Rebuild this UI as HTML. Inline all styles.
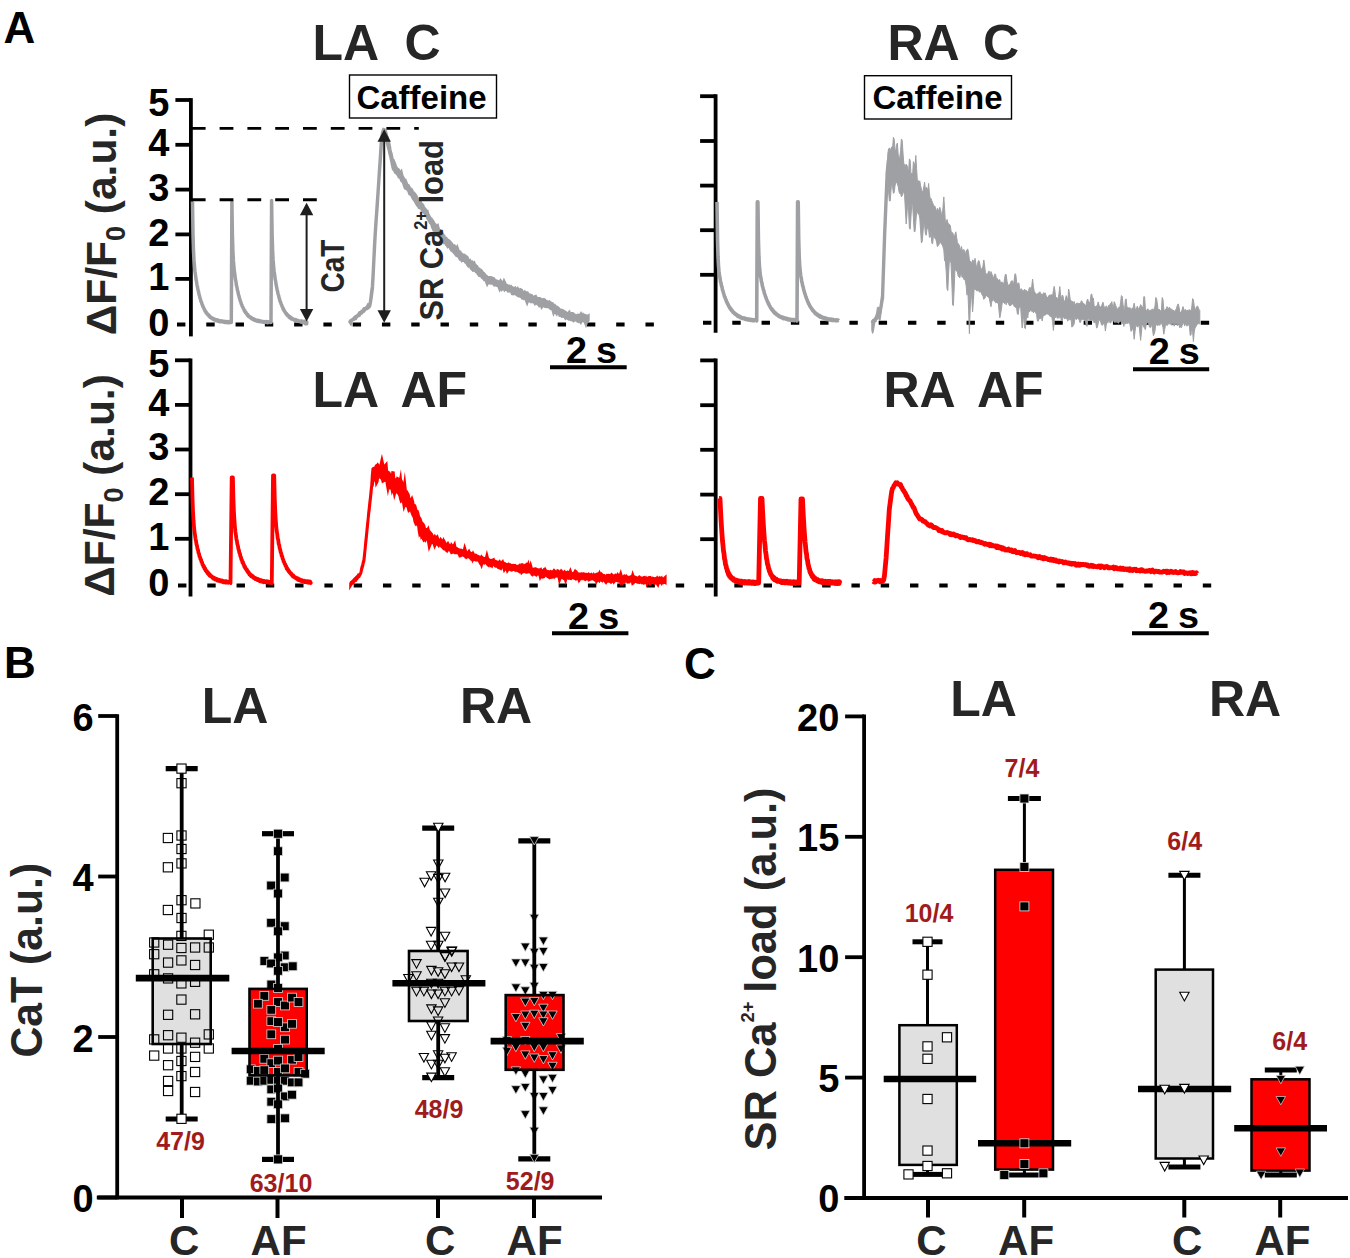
<!DOCTYPE html>
<html><head><meta charset="utf-8"><style>
html,body{margin:0;padding:0;background:#fff;width:1350px;height:1258px;overflow:hidden}
svg{display:block}
</style></head><body>
<svg width="1350" height="1258" viewBox="0 0 1350 1258" font-family="'Liberation Sans', sans-serif" font-weight="bold">
<rect width="1350" height="1258" fill="#fff"/>
<text x="3.5" y="43" font-size="44" fill="#000" text-anchor="start" >A</text>
<text x="4" y="678" font-size="44" fill="#000" text-anchor="start" >B</text>
<text x="684" y="678.5" font-size="44" fill="#000" text-anchor="start" >C</text>
<line x1="190.9" y1="98.1" x2="190.9" y2="336.4" stroke="#000" stroke-width="3.8" />
<line x1="175.4" y1="100" x2="190.9" y2="100" stroke="#000" stroke-width="3.8" />
<line x1="175.4" y1="144.8" x2="190.9" y2="144.8" stroke="#000" stroke-width="3.8" />
<line x1="175.4" y1="189.6" x2="190.9" y2="189.6" stroke="#000" stroke-width="3.8" />
<line x1="175.4" y1="234.4" x2="190.9" y2="234.4" stroke="#000" stroke-width="3.8" />
<line x1="175.4" y1="278.9" x2="190.9" y2="278.9" stroke="#000" stroke-width="3.8" />
<text x="169.5" y="116.2" font-size="38" fill="#000" text-anchor="end" >5</text>
<text x="169.5" y="155.5" font-size="38" fill="#000" text-anchor="end" >4</text>
<text x="169.5" y="200.8" font-size="38" fill="#000" text-anchor="end" >3</text>
<text x="169.5" y="245.6" font-size="38" fill="#000" text-anchor="end" >2</text>
<text x="169.5" y="289.8" font-size="38" fill="#000" text-anchor="end" >1</text>
<text x="169.5" y="336.2" font-size="38" fill="#000" text-anchor="end" >0</text>
<line x1="190.5" y1="358.40000000000003" x2="190.5" y2="596.4" stroke="#000" stroke-width="3.8" />
<line x1="175.0" y1="360.3" x2="190.5" y2="360.3" stroke="#000" stroke-width="3.8" />
<line x1="175.0" y1="404.9" x2="190.5" y2="404.9" stroke="#000" stroke-width="3.8" />
<line x1="175.0" y1="449.5" x2="190.5" y2="449.5" stroke="#000" stroke-width="3.8" />
<line x1="175.0" y1="494.2" x2="190.5" y2="494.2" stroke="#000" stroke-width="3.8" />
<line x1="175.0" y1="538.8" x2="190.5" y2="538.8" stroke="#000" stroke-width="3.8" />
<text x="169.5" y="376.5" font-size="38" fill="#000" text-anchor="end" >5</text>
<text x="169.5" y="415.7" font-size="38" fill="#000" text-anchor="end" >4</text>
<text x="169.5" y="460.3" font-size="38" fill="#000" text-anchor="end" >3</text>
<text x="169.5" y="505" font-size="38" fill="#000" text-anchor="end" >2</text>
<text x="169.5" y="549.6" font-size="38" fill="#000" text-anchor="end" >1</text>
<text x="169.5" y="596.4" font-size="38" fill="#000" text-anchor="end" >0</text>
<line x1="715.6" y1="94.3" x2="715.6" y2="332.8" stroke="#000" stroke-width="3.8" />
<line x1="700.1" y1="96.2" x2="715.6" y2="96.2" stroke="#000" stroke-width="3.8" />
<line x1="700.1" y1="141" x2="715.6" y2="141" stroke="#000" stroke-width="3.8" />
<line x1="700.1" y1="185.6" x2="715.6" y2="185.6" stroke="#000" stroke-width="3.8" />
<line x1="700.1" y1="230.2" x2="715.6" y2="230.2" stroke="#000" stroke-width="3.8" />
<line x1="700.1" y1="274.8" x2="715.6" y2="274.8" stroke="#000" stroke-width="3.8" />
<line x1="715.7" y1="358.5" x2="715.7" y2="596.5" stroke="#000" stroke-width="3.8" />
<line x1="700.2" y1="360.4" x2="715.7" y2="360.4" stroke="#000" stroke-width="3.8" />
<line x1="700.2" y1="405.2" x2="715.7" y2="405.2" stroke="#000" stroke-width="3.8" />
<line x1="700.2" y1="449.8" x2="715.7" y2="449.8" stroke="#000" stroke-width="3.8" />
<line x1="700.2" y1="494.6" x2="715.7" y2="494.6" stroke="#000" stroke-width="3.8" />
<line x1="700.2" y1="539.2" x2="715.7" y2="539.2" stroke="#000" stroke-width="3.8" />
<text transform="translate(116,224) rotate(-90)" font-size="42.5" fill="#262626" text-anchor="middle">ΔF/F<tspan font-size="27" dy="9">0</tspan><tspan dy="-9"> (a.u.)</tspan></text>
<text transform="translate(114,485.5) rotate(-90)" font-size="42.5" fill="#262626" text-anchor="middle">ΔF/F<tspan font-size="27" dy="9">0</tspan><tspan dy="-9"> (a.u.)</tspan></text>
<text x="312.5" y="60.3" font-size="50" fill="#262626" text-anchor="start" >LA</text>
<text x="404.5" y="60.3" font-size="50" fill="#262626" text-anchor="start" >C</text>
<text x="887.5" y="60.3" font-size="50" fill="#262626" text-anchor="start" >RA</text>
<text x="983" y="60.3" font-size="50" fill="#262626" text-anchor="start" >C</text>
<text x="312.5" y="406.5" font-size="50" fill="#262626" text-anchor="start" >LA</text>
<text x="400.5" y="406.5" font-size="50" fill="#262626" text-anchor="start" >AF</text>
<text x="883.5" y="406.7" font-size="50" fill="#262626" text-anchor="start" >RA</text>
<text x="977" y="406.7" font-size="50" fill="#262626" text-anchor="start" >AF</text>
<rect x="349.5" y="75" width="147" height="43" fill="none" stroke="#000" stroke-width="1.4"/>
<text x="421.5" y="108.6" font-size="33" fill="#000" text-anchor="middle" >Caffeine</text>
<rect x="864.5" y="75.7" width="147" height="43.3" fill="none" stroke="#000" stroke-width="1.4"/>
<text x="937.5" y="109.2" font-size="33" fill="#000" text-anchor="middle" >Caffeine</text>
<line x1="177" y1="324.6" x2="655" y2="324.6" stroke="#000" stroke-width="4" stroke-dasharray="8.4 20.88"/>
<line x1="178" y1="585.4" x2="1212" y2="585.4" stroke="#000" stroke-width="4" stroke-dasharray="8.4 20.88"/>
<line x1="703" y1="322.8" x2="1210" y2="322.8" stroke="#000" stroke-width="4" stroke-dasharray="8.4 20.88"/>
<line x1="550" y1="367.3" x2="626.7" y2="367.3" stroke="#000" stroke-width="4" />
<text x="565.9000000000001" y="362.6" font-size="37.8" fill="#000" text-anchor="start" >2</text>
<text x="596.0" y="362.6" font-size="37.8" fill="#000" text-anchor="start" >s</text>
<line x1="552" y1="633.3" x2="628.4" y2="633.3" stroke="#000" stroke-width="4" />
<text x="568.1" y="628.6" font-size="37.8" fill="#000" text-anchor="start" >2</text>
<text x="598.1999999999999" y="628.6" font-size="37.8" fill="#000" text-anchor="start" >s</text>
<line x1="1133" y1="369.3" x2="1209.2" y2="369.3" stroke="#000" stroke-width="4" />
<text x="1148.7" y="364.3" font-size="37.8" fill="#000" text-anchor="start" >2</text>
<text x="1178.8" y="364.3" font-size="37.8" fill="#000" text-anchor="start" >s</text>
<line x1="1132" y1="633.3" x2="1208.8" y2="633.3" stroke="#000" stroke-width="4" />
<text x="1147.9" y="628.4" font-size="37.8" fill="#000" text-anchor="start" >2</text>
<text x="1178.0" y="628.4" font-size="37.8" fill="#000" text-anchor="start" >s</text>
<path d="M192.50,201.50 L193.00,234.20 L193.50,250.87 L194.00,260.41 L194.50,266.70 L195.00,271.74 L195.50,275.08 L196.00,279.20 L196.50,281.63 L197.00,285.09 L197.50,286.98 L198.00,289.95 L198.50,291.62 L199.00,294.32 L199.50,295.73 L200.00,298.13 L200.50,299.40 L201.00,301.56 L201.50,302.15 L202.00,304.28 L202.50,305.06 L203.00,306.96 L203.50,307.05 L204.00,309.08 L204.50,309.28 L205.00,311.11 L205.50,311.15 L206.00,312.67 L206.50,312.55 L207.00,313.76 L207.50,313.92 L208.00,315.04 L208.50,314.75 L209.00,316.03 L209.50,315.82 L210.00,317.13 L210.50,316.76 L211.00,317.88 L211.50,317.62 L212.00,318.36 L212.50,318.19 L213.00,319.21 L213.50,318.65 L214.00,319.57 L214.50,319.06 L215.00,320.07 L215.50,319.60 L216.00,320.60 L216.50,319.79 L217.00,320.71 L217.50,320.15 L218.00,321.11 L218.50,320.30 L219.00,321.45 L219.50,320.78 L220.00,321.77 L220.50,321.05 L221.00,321.73 L221.50,320.96 L222.00,321.78 L222.50,321.22 L223.00,321.87 L223.50,321.28 L224.00,322.30 L224.50,321.43 L225.00,322.45 L225.50,321.64 L226.00,322.47 L226.50,321.61 L227.00,322.50 L227.50,321.74 L228.00,322.68 L228.50,321.60 L229.00,322.59 L229.50,321.78" fill="none" stroke="#9fa0a4" stroke-width="3.5" stroke-linejoin="round" stroke-linecap="butt"/>
<path d="M229.50,322.60 L231.30,322.60 L231.90,201.50 L232.40,234.20 L232.90,250.87 L233.40,260.41 L233.90,266.70 L234.40,271.63 L234.90,274.85 L235.40,279.20 L235.90,281.25 L236.40,285.21 L236.90,287.01 L237.40,290.09 L237.90,291.56 L238.40,294.32 L238.90,295.72 L239.40,298.17 L239.90,299.39 L240.40,301.41 L240.90,302.18 L241.40,304.29 L241.90,305.05 L242.40,306.87 L242.90,307.08 L243.40,308.88 L243.90,309.25 L244.40,310.93 L244.90,310.80 L245.40,312.65 L245.90,312.30 L246.40,313.82 L246.90,313.79 L247.40,315.06 L247.90,314.72 L248.40,316.36 L248.90,316.00 L249.40,316.94 L249.90,316.82 L250.40,317.75 L250.90,317.44 L251.40,318.58 L251.90,318.17 L252.40,318.93 L252.90,318.66 L253.40,319.59 L253.90,319.07 L254.40,320.28 L254.90,319.43 L255.40,320.49 L255.90,319.82 L256.40,320.89 L256.90,320.37 L257.40,321.27 L257.90,320.34 L258.40,321.51 L258.90,320.56 L259.40,321.53 L259.90,320.93 L260.40,321.59 L260.90,321.01 L261.40,321.74 L261.90,321.40 L262.40,321.94 L262.90,321.49 L263.40,322.12 L263.90,321.65 L264.40,322.09 L264.90,321.71 L265.40,322.22 L265.90,321.71 L266.40,322.27 L266.90,321.57 L267.40,322.59 L267.90,321.94 L268.40,322.49 L268.90,321.91 L269.40,322.59" fill="none" stroke="#9fa0a4" stroke-width="3.5" stroke-linejoin="round" stroke-linecap="butt"/>
<path d="M269.50,322.60 L271.00,322.60 L271.60,200.50 L272.10,233.47 L272.60,250.28 L273.10,259.90 L273.60,266.24 L274.10,271.23 L274.60,274.40 L275.10,278.99 L275.60,281.13 L276.10,284.75 L276.60,286.80 L277.10,289.70 L277.60,291.44 L278.10,294.18 L278.60,295.34 L279.10,297.96 L279.60,299.24 L280.10,301.61 L280.60,302.11 L281.10,304.14 L281.60,304.78 L282.10,306.58 L282.60,307.10 L283.10,309.14 L283.60,308.97 L284.10,310.89 L284.60,310.97 L285.10,312.37 L285.60,312.52 L286.10,313.95 L286.60,313.67 L287.10,315.17 L287.60,314.89 L288.10,315.99 L288.60,315.67 L289.10,317.23 L289.60,316.51 L290.10,317.95 L290.60,317.26 L291.10,318.61 L291.60,318.15 L292.10,319.11 L292.60,318.65 L293.10,319.42 L293.60,319.27 L294.10,319.98 L294.60,319.59 L295.10,320.54 L295.60,319.66 L296.10,320.77 L296.60,319.98 L297.10,321.29 L297.60,320.25 L298.10,321.28 L298.60,320.79 L299.10,321.45 L299.60,321.01 L300.10,321.63 L300.60,321.00 L301.10,322.08 L301.60,321.07 L302.10,322.05 L302.60,321.28 L303.10,322.31 L303.60,321.63 L304.10,322.36 L304.60,321.39 L305.10,322.50 L305.60,321.54 L306.10,322.45 L306.60,321.86 L307.10,322.66" fill="none" stroke="#9fa0a4" stroke-width="3.5" stroke-linejoin="round" stroke-linecap="butt"/>
<circle cx="306" cy="323" r="2.6" fill="#9fa0a4"/>
<path d="M717.00,201.90 L717.50,238.72 L718.00,256.46 L718.50,265.82 L719.00,271.43 L719.50,275.66 L720.00,277.89 L720.50,281.63 L721.00,283.07 L721.50,285.95 L722.00,287.06 L722.50,290.04 L723.00,291.10 L723.50,293.28 L724.00,294.40 L724.50,296.71 L725.00,297.05 L725.50,299.15 L726.00,299.64 L726.50,301.95 L727.00,302.03 L727.50,303.87 L728.00,304.13 L728.50,305.71 L729.00,306.18 L729.50,307.79 L730.00,307.54 L730.50,309.13 L731.00,308.86 L731.50,310.46 L732.00,310.17 L732.50,311.83 L733.00,311.59 L733.50,312.67 L734.00,312.57 L734.50,313.62 L735.00,313.35 L735.50,314.48 L736.00,314.22 L736.50,315.18 L737.00,314.73 L737.50,315.94 L738.00,315.55 L738.50,316.64 L739.00,315.93 L739.50,317.10 L740.00,316.42 L740.50,317.61 L741.00,317.03 L741.50,318.04 L742.00,317.64 L742.50,318.38 L743.00,317.92 L743.50,318.52 L744.00,317.98 L744.50,318.89 L745.00,318.39 L745.50,319.38 L746.00,318.61 L746.50,319.45 L747.00,318.84 L747.50,319.75 L748.00,318.93 L748.50,319.75 L749.00,319.19 L749.50,319.97 L750.00,319.47 L750.50,320.34 L751.00,319.51 L751.50,320.38 L752.00,319.52 L752.50,320.64 L753.00,319.76 L753.50,320.62 L754.00,319.83 L754.50,320.67 L755.00,319.84 L755.50,320.72" fill="none" stroke="#9fa0a4" stroke-width="3.6" stroke-linejoin="round" stroke-linecap="butt"/>
<path d="M755.80,321.00 L756.70,321.00 L757.30,201.90 L757.90,201.90 L758.40,238.72 L758.90,256.46 L759.40,265.82 L759.90,271.03 L760.40,275.72 L760.90,277.83 L761.40,281.52 L761.90,282.87 L762.40,286.18 L762.90,287.35 L763.40,289.97 L763.90,290.78 L764.40,293.58 L764.90,294.41 L765.40,296.38 L765.90,297.20 L766.40,299.12 L766.90,299.89 L767.40,301.57 L767.90,302.02 L768.40,304.05 L768.90,303.98 L769.40,305.72 L769.90,305.88 L770.40,307.66 L770.90,307.75 L771.40,309.28 L771.90,308.85 L772.40,310.37 L772.90,310.14 L773.40,311.65 L773.90,311.47 L774.40,312.98 L774.90,312.34 L775.40,313.59 L775.90,313.41 L776.40,314.58 L776.90,314.25 L777.40,315.21 L777.90,314.98 L778.40,316.10 L778.90,315.74 L779.40,316.63 L779.90,316.12 L780.40,316.93 L780.90,316.67 L781.40,317.66 L781.90,317.04 L782.40,317.84 L782.90,317.24 L783.40,318.52 L783.90,317.59 L784.40,318.57 L784.90,318.20 L785.40,318.83 L785.90,318.26 L786.40,319.19 L786.90,318.78 L787.40,319.49 L787.90,318.68 L788.40,319.86 L788.90,319.15 L789.40,319.77 L789.90,319.04 L790.40,320.11 L790.90,319.29 L791.40,320.05 L791.90,319.70 L792.40,320.43 L792.90,319.66 L793.40,320.29 L793.90,319.56 L794.40,320.63 L794.90,319.71 L795.40,320.49" fill="none" stroke="#9fa0a4" stroke-width="3.6" stroke-linejoin="round" stroke-linecap="butt"/>
<path d="M795.80,321.00 L797.00,321.00 L797.60,201.90 L798.20,201.90 L798.70,238.72 L799.20,256.46 L799.70,265.82 L800.20,270.89 L800.70,275.54 L801.20,277.87 L801.70,281.42 L802.20,283.09 L802.70,286.01 L803.20,287.07 L803.70,289.84 L804.20,291.12 L804.70,293.45 L805.20,294.36 L805.70,296.38 L806.20,297.32 L806.70,299.11 L807.20,299.91 L807.70,301.67 L808.20,302.17 L808.70,304.04 L809.20,304.24 L809.70,305.87 L810.20,306.11 L810.70,307.53 L811.20,307.80 L811.70,309.02 L812.20,309.25 L812.70,310.58 L813.20,310.31 L813.70,311.56 L814.20,311.48 L814.70,312.95 L815.20,312.65 L815.70,313.86 L816.20,313.41 L816.70,314.58 L817.20,314.05 L817.70,315.29 L818.20,314.90 L818.70,316.08 L819.20,315.33 L819.70,316.54 L820.20,315.96 L820.70,317.22 L821.20,316.54 L821.70,317.57 L822.20,317.11 L822.70,317.84 L823.20,317.59 L823.70,318.22 L824.20,317.69 L824.70,318.63 L825.20,318.25 L825.70,318.85 L826.20,318.24 L826.70,319.44 L827.20,318.56 L827.70,319.43 L828.20,318.96 L828.70,319.64 L829.20,319.06 L829.70,319.77 L830.20,319.24 L830.70,319.98 L831.20,319.18 L831.70,320.42 L832.20,319.49 L832.70,320.25 L833.20,319.44 L833.70,320.39 L834.20,319.80 L834.70,320.36 L835.20,319.89 L835.70,320.65 L836.20,319.92 L836.70,320.62 L837.20,320.00 L837.70,320.61 L838.20,320.17 L838.70,320.71" fill="none" stroke="#9fa0a4" stroke-width="3.6" stroke-linejoin="round" stroke-linecap="butt"/>
<path d="M192.00,477.50 L192.50,498.12 L193.00,511.35 L193.50,520.26 L194.00,526.61 L194.50,531.89 L195.00,535.02 L195.50,538.80 L196.00,540.98 L196.50,544.32 L197.00,545.73 L197.50,548.99 L198.00,549.82 L198.50,552.97 L199.00,553.49 L199.50,556.53 L200.00,556.91 L200.50,559.27 L201.00,559.45 L201.50,561.88 L202.00,562.14 L202.50,564.56 L203.00,564.79 L203.50,566.80 L204.00,566.33 L204.50,568.58 L205.00,568.21 L205.50,570.37 L206.00,570.13 L206.50,571.71 L207.00,571.34 L207.50,573.22 L208.00,572.43 L208.50,574.40 L209.00,573.68 L209.50,575.49 L210.00,574.61 L210.50,576.32 L211.00,575.75 L211.50,576.78 L212.00,576.59 L212.50,577.71 L213.00,577.31 L213.50,578.63 L214.00,577.67 L214.50,579.10 L215.00,578.19 L215.50,579.65 L216.00,578.75 L216.50,579.74 L217.00,579.02 L217.50,580.56 L218.00,579.57 L218.50,580.81 L219.00,579.83 L219.50,580.87 L220.00,580.09 L220.50,581.27 L221.00,580.74 L221.50,581.53 L222.00,580.61 L222.50,581.73 L223.00,580.82 L223.50,582.36 L224.00,581.15 L224.50,582.21 L225.00,581.33 L225.50,582.54 L226.00,581.32 L226.50,582.64 L227.00,581.52 L227.50,582.47 L228.00,581.92 L228.50,582.68 L229.00,581.69 L229.50,582.81" fill="none" stroke="#ff0000" stroke-width="3.8" stroke-linejoin="round" stroke-linecap="butt"/>
<path d="M229.80,583.20 L230.50,583.20 L231.70,477.50 L232.90,477.50 L233.40,498.12 L233.90,511.35 L234.40,520.26 L234.90,526.61 L235.40,531.98 L235.90,535.04 L236.40,538.82 L236.90,541.00 L237.40,544.57 L237.90,545.67 L238.40,549.08 L238.90,550.07 L239.40,552.89 L239.90,553.64 L240.40,556.30 L240.90,557.06 L241.40,559.59 L241.90,559.89 L242.40,562.34 L242.90,562.03 L243.40,564.21 L243.90,564.56 L244.40,566.79 L244.90,566.29 L245.40,568.48 L245.90,568.47 L246.40,570.04 L246.90,569.68 L247.40,571.54 L247.90,571.30 L248.40,572.83 L248.90,572.59 L249.40,574.47 L249.90,573.93 L250.40,575.45 L250.90,574.71 L251.40,576.43 L251.90,575.49 L252.40,576.89 L252.90,576.16 L253.40,577.78 L253.90,577.35 L254.40,578.17 L254.90,577.71 L255.40,579.00 L255.90,578.37 L256.40,579.35 L256.90,578.84 L257.40,579.91 L257.90,578.99 L258.40,580.15 L258.90,579.43 L259.40,580.98 L259.90,580.13 L260.40,581.35 L260.90,580.11 L261.40,581.63 L261.90,580.61 L262.40,581.59 L262.90,580.80 L263.40,582.17 L263.90,580.90 L264.40,582.02 L264.90,581.19 L265.40,582.15 L265.90,581.57 L266.40,582.21 L266.90,581.28 L267.40,582.46 L267.90,581.36 L268.40,582.56 L268.90,581.85 L269.40,582.82 L269.90,582.00 L270.40,582.85 L270.90,581.67" fill="none" stroke="#ff0000" stroke-width="3.8" stroke-linejoin="round" stroke-linecap="butt"/>
<path d="M271.00,583.20 L271.80,583.20 L273.00,475.50 L274.20,475.50 L274.70,496.51 L275.20,509.99 L275.70,519.07 L276.20,525.54 L276.70,531.18 L277.20,533.69 L277.70,538.29 L278.20,539.85 L278.70,543.98 L279.20,545.05 L279.70,548.44 L280.20,549.59 L280.70,552.43 L281.20,553.09 L281.70,555.95 L282.20,556.28 L282.70,558.79 L283.20,559.54 L283.70,561.90 L284.20,562.09 L284.70,564.10 L285.20,564.28 L285.70,566.18 L286.20,566.11 L286.70,568.49 L287.20,568.20 L287.70,570.03 L288.20,569.80 L288.70,571.50 L289.20,571.19 L289.70,572.65 L290.20,572.60 L290.70,573.88 L291.20,573.33 L291.70,575.11 L292.20,574.72 L292.70,576.30 L293.20,575.19 L293.70,576.89 L294.20,576.47 L294.70,577.50 L295.20,577.21 L295.70,578.26 L296.20,577.84 L296.70,578.80 L297.20,578.31 L297.70,579.51 L298.20,578.46 L298.70,580.08 L299.20,579.17 L299.70,580.31 L300.20,579.50 L300.70,580.67 L301.20,579.96 L301.70,580.82 L302.20,580.30 L302.70,581.62 L303.20,580.67 L303.70,581.62 L304.20,580.63 L304.70,582.06 L305.20,581.08 L305.70,581.93 L306.20,581.26 L306.70,582.19 L307.20,581.32 L307.70,582.66 L308.20,581.25 L308.70,582.76 L309.20,581.85 L309.70,582.42 L310.20,581.59 L310.70,583.02 L311.20,581.83" fill="none" stroke="#ff0000" stroke-width="3.8" stroke-linejoin="round" stroke-linecap="butt"/>
<path d="M719.00,498.50 L720.00,498.50 L720.50,509.48 L721.00,518.98 L721.50,527.20 L722.00,534.32 L722.50,541.13 L723.00,545.56 L723.50,550.98 L724.00,553.63 L724.50,558.76 L725.00,560.18 L725.50,564.50 L726.00,565.48 L726.50,568.23 L727.00,569.25 L727.50,571.73 L728.00,571.74 L728.50,574.45 L729.00,573.86 L729.50,576.14 L730.00,575.48 L730.50,577.47 L731.00,576.88 L731.50,578.31 L732.00,577.72 L732.50,579.30 L733.00,578.39 L733.50,580.24 L734.00,579.38 L734.50,580.44 L735.00,579.89 L735.50,581.19 L736.00,579.99 L736.50,581.20 L737.00,580.69 L737.50,581.74 L738.00,580.62 L738.50,581.88 L739.00,581.06 L739.50,582.21 L740.00,581.36 L740.50,582.18 L741.00,581.23 L741.50,582.73 L742.00,581.24 L742.50,582.80 L743.00,581.45 L743.50,582.49 L744.00,581.69 L744.50,583.03 L745.00,581.48 L745.50,582.70 L746.00,581.99 L746.50,582.89 L747.00,581.64 L747.50,582.90 L748.00,581.96 L748.50,583.11 L749.00,581.59 L749.50,582.88 L750.00,582.20 L750.50,583.00 L751.00,582.00 L751.50,583.26 L752.00,582.18 L752.50,583.36 L753.00,581.87 L753.50,583.21 L754.00,582.24 L754.50,583.54 L755.00,582.20 L755.50,583.47 L756.00,582.28 L756.50,583.12 L757.00,581.97" fill="none" stroke="#ff0000" stroke-width="4.8" stroke-linejoin="round" stroke-linecap="butt"/>
<path d="M757.00,583.00 L758.70,583.00 L760.50,498.50 L762.00,498.50 L762.50,509.48 L763.00,518.98 L763.50,527.20 L764.00,534.32 L764.50,540.94 L765.00,544.96 L765.50,551.04 L766.00,554.09 L766.50,558.38 L767.00,560.46 L767.50,564.31 L768.00,565.04 L768.50,568.25 L769.00,569.10 L769.50,571.53 L770.00,571.56 L770.50,573.95 L771.00,574.29 L771.50,575.77 L772.00,575.72 L772.50,577.74 L773.00,576.67 L773.50,578.75 L774.00,577.58 L774.50,579.74 L775.00,578.77 L775.50,579.95 L776.00,578.98 L776.50,580.83 L777.00,580.03 L777.50,581.21 L778.00,580.19 L778.50,581.37 L779.00,580.53 L779.50,581.52 L780.00,580.99 L780.50,581.81 L781.00,580.98 L781.50,582.43 L782.00,581.29 L782.50,582.60 L783.00,581.39 L783.50,582.35 L784.00,581.13 L784.50,582.76 L785.00,581.48 L785.50,582.37 L786.00,581.55 L786.50,582.66 L787.00,581.35 L787.50,582.63 L788.00,581.77 L788.50,583.14 L789.00,582.05 L789.50,582.89 L790.00,581.61 L790.50,583.17 L791.00,582.15 L791.50,582.76 L792.00,582.18 L792.50,583.36 L793.00,582.10 L793.50,583.30 L794.00,581.74 L794.50,583.08 L795.00,582.17 L795.50,583.50 L796.00,581.98 L796.50,583.09 L797.00,581.95 L797.50,583.15" fill="none" stroke="#ff0000" stroke-width="4.8" stroke-linejoin="round" stroke-linecap="butt"/>
<path d="M797.60,583.00 L799.20,583.00 L801.00,499.00 L802.50,499.00 L803.00,509.91 L803.50,519.36 L804.00,527.53 L804.50,534.61 L805.00,541.23 L805.50,545.75 L806.00,551.48 L806.50,553.71 L807.00,558.86 L807.50,560.16 L808.00,564.05 L808.50,565.54 L809.00,568.61 L809.50,568.73 L810.00,572.16 L810.50,571.93 L811.00,574.12 L811.50,574.04 L812.00,576.16 L812.50,575.32 L813.00,577.37 L813.50,576.67 L814.00,578.87 L814.50,577.63 L815.00,579.75 L815.50,578.54 L816.00,580.11 L816.50,579.34 L817.00,580.66 L817.50,579.49 L818.00,580.89 L818.50,580.28 L819.00,581.70 L819.50,580.55 L820.00,581.50 L820.50,580.95 L821.00,582.06 L821.50,580.95 L822.00,582.55 L822.50,580.73 L823.00,582.72 L823.50,581.31 L824.00,582.22 L824.50,581.55 L825.00,582.62 L825.50,581.23 L826.00,582.69 L826.50,581.66 L827.00,582.76 L827.50,581.47 L828.00,583.01 L828.50,581.45 L829.00,583.20 L829.50,581.57 L830.00,582.75 L830.50,581.51 L831.00,582.93 L831.50,581.75 L832.00,583.03 L832.50,581.68 L833.00,582.96 L833.50,582.07 L834.00,583.03 L834.50,582.17 L835.00,583.51 L835.50,581.91 L836.00,583.16 L836.50,582.07 L837.00,583.65 L837.50,582.02 L838.00,583.15 L838.50,581.83 L839.00,583.47 L839.50,581.73 L840.00,583.11" fill="none" stroke="#ff0000" stroke-width="4.8" stroke-linejoin="round" stroke-linecap="butt"/>
<path d="M350.00,321.67 L350.70,320.73 L351.40,320.14 L352.10,319.79 L352.80,319.55 L353.50,319.09 L354.20,318.24 L354.90,317.18 L355.60,316.79 L356.30,316.85 L357.00,315.77 L357.70,315.38 L358.40,314.86 L359.10,313.66 L359.80,312.75 L360.50,312.69 L361.20,312.11 L361.90,311.26 L362.60,311.32 L363.30,310.76 L364.00,308.91 L364.70,308.69 L365.40,308.48 L366.10,308.04 L366.80,307.40 L367.50,306.82 L368.20,305.33 L368.90,305.82 L369.60,304.27 L370.30,302.79 L371.00,297.52 L371.70,291.45 L372.40,286.42 L373.10,275.09 L373.80,261.30 L374.50,246.01 L375.20,234.22 L375.90,222.96 L376.60,213.49 L377.30,202.98 L378.00,193.08 L378.70,182.64 L379.40,170.92 L380.10,161.26 L380.80,150.05 L381.50,139.15 L382.20,134.70 L382.90,131.40 L383.60,129.58 L384.30,129.73 L385.00,130.52 L385.70,132.16 L386.40,135.49 L387.10,137.22 L387.80,141.00 L388.50,142.60 L389.20,145.36 L389.90,149.54 L390.60,152.56 L391.30,155.00 L392.00,159.05 L392.70,161.37 L393.40,164.24 L394.10,162.89 L394.80,164.63 L395.50,167.14 L396.20,167.72 L396.90,169.20 L397.60,169.60 L398.30,169.99 L399.00,171.94 L399.70,172.47 L400.40,173.32 L401.10,172.35 L401.80,175.08 L402.50,178.38 L403.20,178.28 L403.90,180.10 L404.60,181.39 L405.30,180.89 L406.00,182.52 L406.70,184.51 L407.40,185.28 L408.10,185.53 L408.80,186.94 L409.50,187.94 L410.20,188.89 L410.90,189.28 L411.60,189.87 L412.30,192.21 L413.00,193.94 L413.70,194.85 L414.40,194.00 L415.10,194.85 L415.80,195.80 L416.50,197.25 L417.20,199.14 L417.90,199.72 L418.60,200.84 L419.30,200.52 L420.00,201.16 L420.70,203.65 L421.40,204.74 L422.10,204.60 L422.80,205.46 L423.50,207.89 L424.20,208.36 L424.90,209.06 L425.60,210.36 L426.30,211.38 L427.00,211.31 L427.70,214.14 L428.40,215.05 L429.10,216.63 L429.80,217.73 L430.50,218.87 L431.20,219.16 L431.90,220.30 L432.60,221.05 L433.30,222.42 L434.00,224.72 L434.70,226.22 L435.40,225.57 L436.10,226.94 L436.80,226.82 L437.50,226.18 L438.20,228.91 L438.90,230.01 L439.60,230.47 L440.30,231.43 L441.00,233.58 L441.70,233.99 L442.40,234.15 L443.10,235.47 L443.80,235.87 L444.50,238.03 L445.20,238.30 L445.90,238.35 L446.60,239.99 L447.30,239.99 L448.00,240.74 L448.70,242.44 L449.40,241.54 L450.10,242.22 L450.80,244.01 L451.50,243.96 L452.20,245.26 L452.90,245.75 L453.60,246.50 L454.30,246.20 L455.00,247.26 L455.70,249.51 L456.40,249.23 L457.10,247.93 L457.80,249.81 L458.50,251.54 L459.20,251.79 L459.90,252.12 L460.60,253.85 L461.30,254.00 L462.00,254.60 L462.70,255.33 L463.40,255.71 L464.10,255.52 L464.80,256.41 L465.50,258.30 L466.20,256.79 L466.90,257.28 L467.60,259.37 L468.30,260.67 L469.00,260.94 L469.70,260.65 L470.40,261.78 L471.10,262.11 L471.80,262.01 L472.50,263.96 L473.20,263.70 L473.90,263.20 L474.60,264.94 L475.30,265.46 L476.00,266.03 L476.70,266.53 L477.40,268.36 L478.10,269.35 L478.80,269.13 L479.50,269.77 L480.20,270.06 L480.90,270.65 L481.60,271.27 L482.30,272.55 L483.00,273.20 L483.70,273.50 L484.40,274.64 L485.10,275.49 L485.80,276.03 L486.50,276.67 L487.20,277.12 L487.90,277.51 L488.60,277.80 L489.30,278.61 L490.00,277.69 L490.70,277.69 L491.40,278.43 L492.10,278.31 L492.80,278.59 L493.50,280.41 L494.20,279.69 L494.90,280.64 L495.60,280.87 L496.30,281.53 L497.00,281.28 L497.70,281.59 L498.40,282.42 L499.10,282.74 L499.80,282.35 L500.50,281.26 L501.20,282.37 L501.90,283.89 L502.60,284.58 L503.30,283.36 L504.00,281.65 L504.70,283.15 L505.40,284.98 L506.10,285.26 L506.80,286.41 L507.50,285.94 L508.20,286.68 L508.90,286.45 L509.60,287.33 L510.30,288.18 L511.00,287.21 L511.70,288.16 L512.40,287.84 L513.10,288.34 L513.80,288.35 L514.50,289.61 L515.20,288.77 L515.90,290.09 L516.60,290.02 L517.30,289.28 L518.00,291.21 L518.70,290.43 L519.40,291.84 L520.10,290.97 L520.80,290.03 L521.50,290.39 L522.20,292.93 L522.90,292.58 L523.60,293.15 L524.30,292.51 L525.00,294.60 L525.70,293.85 L526.40,292.81 L527.10,292.89 L527.80,293.78 L528.50,295.46 L529.20,295.40 L529.90,295.32 L530.60,295.39 L531.30,295.54 L532.00,296.92 L532.70,297.53 L533.40,297.34 L534.10,297.71 L534.80,296.85 L535.50,296.61 L536.20,297.83 L536.90,298.68 L537.60,298.64 L538.30,298.91 L539.00,298.68 L539.70,298.69 L540.40,299.42 L541.10,299.54 L541.80,299.73 L542.50,301.07 L543.20,300.14 L543.90,299.68 L544.60,299.99 L545.30,300.99 L546.00,301.64 L546.70,301.75 L547.40,301.94 L548.10,302.57 L548.80,303.22 L549.50,302.24 L550.20,302.89 L550.90,303.79 L551.60,303.49 L552.30,303.73 L553.00,305.93 L553.70,305.49 L554.40,305.44 L555.10,306.45 L555.80,306.76 L556.50,306.99 L557.20,307.82 L557.90,308.04 L558.60,308.74 L559.30,310.00 L560.00,310.08 L560.70,310.09 L561.40,310.34 L562.10,310.78 L562.80,310.90 L563.50,312.35 L564.20,311.73 L564.90,312.09 L565.60,314.33 L566.30,313.34 L567.00,314.11 L567.70,314.01 L568.40,313.38 L569.10,312.67 L569.80,314.94 L570.50,314.40 L571.20,314.48 L571.90,313.75 L572.60,313.72 L573.30,314.32 L574.00,316.03 L574.70,315.52 L575.40,315.44 L576.10,315.64 L576.80,316.55 L577.50,316.05 L578.20,315.22 L578.90,315.33 L579.60,315.49 L580.30,315.64 L581.00,314.44 L581.70,315.64 L582.40,317.24 L583.10,315.82 L583.80,317.17 L584.50,317.30 L585.20,315.69 L585.90,315.98 L586.60,316.94 L587.30,316.74 L588.00,316.32 L588.00,320.01 L587.30,321.35 L586.60,321.36 L585.90,323.45 L585.20,321.69 L584.50,320.39 L583.80,319.84 L583.10,320.35 L582.40,319.94 L581.70,320.05 L581.00,321.39 L580.30,319.77 L579.60,320.06 L578.90,320.99 L578.20,320.17 L577.50,320.64 L576.80,319.49 L576.10,319.60 L575.40,319.68 L574.70,319.48 L574.00,319.13 L573.30,320.36 L572.60,319.94 L571.90,319.36 L571.20,319.46 L570.50,318.80 L569.80,318.93 L569.10,319.03 L568.40,318.60 L567.70,318.06 L567.00,317.70 L566.30,317.02 L565.60,317.74 L564.90,316.71 L564.20,316.21 L563.50,315.83 L562.80,315.84 L562.10,316.22 L561.40,315.47 L560.70,315.17 L560.00,315.26 L559.30,313.22 L558.60,312.91 L557.90,312.32 L557.20,310.89 L556.50,313.07 L555.80,312.14 L555.10,309.73 L554.40,310.61 L553.70,312.08 L553.00,309.49 L552.30,308.91 L551.60,308.63 L550.90,308.41 L550.20,307.74 L549.50,306.64 L548.80,306.69 L548.10,305.69 L547.40,305.74 L546.70,306.38 L546.00,306.30 L545.30,304.87 L544.60,305.55 L543.90,304.77 L543.20,304.02 L542.50,305.53 L541.80,306.49 L541.10,304.83 L540.40,304.39 L539.70,303.68 L539.00,304.96 L538.30,304.02 L537.60,303.76 L536.90,302.83 L536.20,302.71 L535.50,301.57 L534.80,302.95 L534.10,301.91 L533.40,301.38 L532.70,300.81 L532.00,301.44 L531.30,301.55 L530.60,300.59 L529.90,300.96 L529.20,300.62 L528.50,299.86 L527.80,299.89 L527.10,301.82 L526.40,300.03 L525.70,298.40 L525.00,297.57 L524.30,297.27 L523.60,297.92 L522.90,296.85 L522.20,297.43 L521.50,296.50 L520.80,296.35 L520.10,296.01 L519.40,295.69 L518.70,295.80 L518.00,295.30 L517.30,294.88 L516.60,294.02 L515.90,293.89 L515.20,292.68 L514.50,292.80 L513.80,293.02 L513.10,293.71 L512.40,293.56 L511.70,291.55 L511.00,291.07 L510.30,290.65 L509.60,290.82 L508.90,290.25 L508.20,290.70 L507.50,289.71 L506.80,289.34 L506.10,288.59 L505.40,288.95 L504.70,289.59 L504.00,288.20 L503.30,288.11 L502.60,287.67 L501.90,288.67 L501.20,287.09 L500.50,287.29 L499.80,288.64 L499.10,286.80 L498.40,285.29 L497.70,284.97 L497.00,285.11 L496.30,284.62 L495.60,284.68 L494.90,283.78 L494.20,284.43 L493.50,283.52 L492.80,283.18 L492.10,282.48 L491.40,282.10 L490.70,282.94 L490.00,282.71 L489.30,282.63 L488.60,281.60 L487.90,281.64 L487.20,283.11 L486.50,281.33 L485.80,279.80 L485.10,279.25 L484.40,279.35 L483.70,278.35 L483.00,277.88 L482.30,277.40 L481.60,276.04 L480.90,275.74 L480.20,275.43 L479.50,275.40 L478.80,274.49 L478.10,273.63 L477.40,272.15 L476.70,272.00 L476.00,271.14 L475.30,270.01 L474.60,269.14 L473.90,270.00 L473.20,270.10 L472.50,269.21 L471.80,268.76 L471.10,267.78 L470.40,265.83 L469.70,264.57 L469.00,264.41 L468.30,265.41 L467.60,264.44 L466.90,262.73 L466.20,261.53 L465.50,261.78 L464.80,260.82 L464.10,260.48 L463.40,259.02 L462.70,259.90 L462.00,260.28 L461.30,258.18 L460.60,257.86 L459.90,258.38 L459.20,256.91 L458.50,255.54 L457.80,254.26 L457.10,255.55 L456.40,255.26 L455.70,254.08 L455.00,252.98 L454.30,252.60 L453.60,251.36 L452.90,250.43 L452.20,250.51 L451.50,249.90 L450.80,248.56 L450.10,246.61 L449.40,245.74 L448.70,246.02 L448.00,246.43 L447.30,245.18 L446.60,244.61 L445.90,242.68 L445.20,241.32 L444.50,240.85 L443.80,241.91 L443.10,241.08 L442.40,240.59 L441.70,239.18 L441.00,236.77 L440.30,235.66 L439.60,235.71 L438.90,234.67 L438.20,234.10 L437.50,233.85 L436.80,232.90 L436.10,230.88 L435.40,230.97 L434.70,230.37 L434.00,230.24 L433.30,228.41 L432.60,227.01 L431.90,224.61 L431.20,223.01 L430.50,222.68 L429.80,221.08 L429.10,219.90 L428.40,219.06 L427.70,217.88 L427.00,215.66 L426.30,214.37 L425.60,214.17 L424.90,212.85 L424.20,212.29 L423.50,211.38 L422.80,210.10 L422.10,209.50 L421.40,207.79 L420.70,206.83 L420.00,207.63 L419.30,207.36 L418.60,205.13 L417.90,203.24 L417.20,204.39 L416.50,203.30 L415.80,201.82 L415.10,200.77 L414.40,198.22 L413.70,198.82 L413.00,197.83 L412.30,196.13 L411.60,194.80 L410.90,194.59 L410.20,192.70 L409.50,192.91 L408.80,190.77 L408.10,189.94 L407.40,188.78 L406.70,188.13 L406.00,188.22 L405.30,187.93 L404.60,185.93 L403.90,183.79 L403.20,181.69 L402.50,181.15 L401.80,180.60 L401.10,178.94 L400.40,177.29 L399.70,177.11 L399.00,176.62 L398.30,174.56 L397.60,174.18 L396.90,173.11 L396.20,172.81 L395.50,172.29 L394.80,170.29 L394.10,169.83 L393.40,168.80 L392.70,165.87 L392.00,162.17 L391.30,159.06 L390.60,155.74 L389.90,153.22 L389.20,149.94 L388.50,147.49 L387.80,144.65 L387.10,141.79 L386.40,139.22 L385.70,134.72 L385.00,131.61 L384.30,130.71 L383.60,130.34 L382.90,131.47 L382.20,135.33 L381.50,141.23 L380.80,151.92 L380.10,162.03 L379.40,172.01 L378.70,182.33 L378.00,192.81 L377.30,204.44 L376.60,213.51 L375.90,224.19 L375.20,234.30 L374.50,247.96 L373.80,260.70 L373.10,275.76 L372.40,288.23 L371.70,293.56 L371.00,298.83 L370.30,303.13 L369.60,306.19 L368.90,306.93 L368.20,306.42 L367.50,308.16 L366.80,308.55 L366.10,308.34 L365.40,308.71 L364.70,309.60 L364.00,310.83 L363.30,310.74 L362.60,311.43 L361.90,312.75 L361.20,313.29 L360.50,313.55 L359.80,313.98 L359.10,315.49 L358.40,315.61 L357.70,315.82 L357.00,316.37 L356.30,317.04 L355.60,318.61 L354.90,318.61 L354.20,319.07 L353.50,318.83 L352.80,319.53 L352.10,320.06 L351.40,320.69 L350.70,322.87 L350.00,321.77 Z" fill="#9fa0a4" stroke="#9fa0a4" stroke-width="3.4" stroke-linejoin="miter" stroke-miterlimit="20"/>
<path d="M871.80,320.49 L872.60,319.40 L873.40,320.37 L874.20,319.43 L875.00,318.16 L875.80,315.59 L876.60,312.97 L877.40,307.33 L878.20,307.23 L879.00,307.48 L879.80,311.71 L880.60,305.28 L881.40,296.18 L882.20,296.75 L883.00,282.30 L883.80,256.14 L884.60,234.62 L885.40,213.75 L886.20,194.21 L887.00,171.38 L887.80,153.48 L888.60,148.77 L889.40,148.03 L890.20,150.95 L891.00,148.38 L891.80,146.87 L892.60,148.12 L893.40,137.28 L894.20,139.20 L895.00,149.32 L895.80,150.95 L896.60,144.70 L897.40,143.02 L898.20,155.03 L899.00,157.72 L899.80,156.91 L900.60,150.68 L901.40,138.98 L902.20,140.44 L903.00,153.11 L903.80,164.25 L904.60,164.22 L905.40,166.38 L906.20,164.21 L907.00,165.28 L907.80,168.57 L908.60,171.73 L909.40,158.85 L910.20,160.38 L911.00,174.49 L911.80,173.18 L912.60,175.32 L913.40,161.63 L914.20,163.31 L915.00,167.16 L915.80,155.52 L916.60,168.63 L917.40,181.81 L918.20,180.44 L919.00,181.99 L919.80,180.88 L920.60,185.79 L921.40,188.93 L922.20,192.34 L923.00,191.05 L923.80,187.00 L924.60,182.02 L925.40,189.49 L926.20,187.36 L927.00,188.08 L927.80,191.27 L928.60,183.47 L929.40,192.90 L930.20,198.82 L931.00,198.36 L931.80,200.84 L932.60,202.95 L933.40,204.54 L934.20,206.43 L935.00,206.19 L935.80,209.96 L936.60,210.62 L937.40,208.24 L938.20,211.82 L939.00,209.30 L939.80,207.33 L940.60,210.15 L941.40,213.42 L942.20,216.25 L943.00,207.23 L943.80,196.96 L944.60,208.78 L945.40,222.85 L946.20,221.65 L947.00,219.52 L947.80,222.32 L948.60,224.45 L949.40,224.31 L950.20,225.28 L951.00,230.36 L951.80,235.05 L952.60,232.51 L953.40,234.48 L954.20,238.02 L955.00,234.28 L955.80,231.83 L956.60,236.98 L957.40,242.62 L958.20,243.71 L959.00,244.44 L959.80,247.72 L960.60,250.90 L961.40,246.33 L962.20,250.06 L963.00,251.84 L963.80,249.45 L964.60,250.97 L965.40,254.91 L966.20,250.93 L967.00,249.70 L967.80,249.07 L968.60,253.21 L969.40,260.11 L970.20,261.41 L971.00,261.61 L971.80,264.22 L972.60,259.91 L973.40,260.50 L974.20,263.61 L975.00,258.34 L975.80,263.26 L976.60,268.02 L977.40,264.94 L978.20,261.19 L979.00,260.61 L979.80,263.73 L980.60,269.15 L981.40,268.49 L982.20,269.30 L983.00,265.94 L983.80,259.97 L984.60,265.15 L985.40,272.65 L986.20,273.39 L987.00,274.39 L987.80,273.42 L988.60,271.44 L989.40,271.25 L990.20,276.37 L991.00,271.60 L991.80,273.78 L992.60,275.97 L993.40,278.49 L994.20,275.82 L995.00,273.84 L995.80,275.22 L996.60,280.44 L997.40,278.44 L998.20,281.22 L999.00,279.69 L999.80,279.80 L1000.60,283.99 L1001.40,282.05 L1002.20,282.12 L1003.00,282.91 L1003.80,283.99 L1004.60,278.31 L1005.40,274.34 L1006.20,274.56 L1007.00,281.30 L1007.80,284.25 L1008.60,286.09 L1009.40,284.21 L1010.20,284.45 L1011.00,281.47 L1011.80,280.64 L1012.60,281.01 L1013.40,285.76 L1014.20,280.03 L1015.00,273.68 L1015.80,274.37 L1016.60,282.37 L1017.40,284.94 L1018.20,282.69 L1019.00,283.57 L1019.80,290.46 L1020.60,289.18 L1021.40,288.74 L1022.20,290.22 L1023.00,290.87 L1023.80,290.58 L1024.60,289.09 L1025.40,291.34 L1026.20,290.11 L1027.00,292.04 L1027.80,291.65 L1028.60,290.50 L1029.40,287.69 L1030.20,287.40 L1031.00,292.24 L1031.80,285.67 L1032.60,279.11 L1033.40,286.44 L1034.20,291.58 L1035.00,292.28 L1035.80,293.90 L1036.60,294.23 L1037.40,293.69 L1038.20,293.92 L1039.00,292.59 L1039.80,291.75 L1040.60,293.32 L1041.40,293.91 L1042.20,295.56 L1043.00,293.68 L1043.80,292.58 L1044.60,293.61 L1045.40,293.02 L1046.20,296.21 L1047.00,296.89 L1047.80,297.93 L1048.60,296.03 L1049.40,295.06 L1050.20,294.96 L1051.00,295.29 L1051.80,294.55 L1052.60,295.98 L1053.40,290.56 L1054.20,286.36 L1055.00,291.29 L1055.80,299.51 L1056.60,297.06 L1057.40,298.55 L1058.20,299.27 L1059.00,293.21 L1059.80,286.56 L1060.60,295.06 L1061.40,299.72 L1062.20,295.03 L1063.00,295.87 L1063.80,302.24 L1064.60,300.92 L1065.40,299.41 L1066.20,295.63 L1067.00,297.59 L1067.80,301.95 L1068.60,289.06 L1069.40,292.44 L1070.20,300.08 L1071.00,300.19 L1071.80,303.00 L1072.60,301.16 L1073.40,303.54 L1074.20,301.55 L1075.00,304.21 L1075.80,304.91 L1076.60,303.07 L1077.40,302.95 L1078.20,304.87 L1079.00,302.93 L1079.80,303.73 L1080.60,302.82 L1081.40,300.72 L1082.20,301.82 L1083.00,303.22 L1083.80,303.76 L1084.60,304.10 L1085.40,305.83 L1086.20,304.52 L1087.00,300.41 L1087.80,299.00 L1088.60,303.10 L1089.40,301.80 L1090.20,302.79 L1091.00,294.36 L1091.80,294.07 L1092.60,299.70 L1093.40,297.98 L1094.20,306.47 L1095.00,306.58 L1095.80,306.72 L1096.60,305.69 L1097.40,305.00 L1098.20,301.92 L1099.00,305.14 L1099.80,306.99 L1100.60,306.87 L1101.40,307.06 L1102.20,304.11 L1103.00,302.22 L1103.80,305.73 L1104.60,307.95 L1105.40,308.05 L1106.20,305.83 L1107.00,307.98 L1107.80,307.60 L1108.60,305.35 L1109.40,306.33 L1110.20,303.75 L1111.00,303.38 L1111.80,301.63 L1112.60,306.09 L1113.40,308.03 L1114.20,301.65 L1115.00,303.39 L1115.80,305.89 L1116.60,307.39 L1117.40,309.26 L1118.20,308.73 L1119.00,306.88 L1119.80,307.66 L1120.60,302.76 L1121.40,295.56 L1122.20,296.56 L1123.00,304.29 L1123.80,308.80 L1124.60,309.65 L1125.40,299.41 L1126.20,298.99 L1127.00,308.02 L1127.80,307.20 L1128.60,307.94 L1129.40,307.82 L1130.20,307.89 L1131.00,309.85 L1131.80,308.49 L1132.60,308.81 L1133.40,306.47 L1134.20,303.16 L1135.00,308.10 L1135.80,310.89 L1136.60,307.90 L1137.40,306.10 L1138.20,309.69 L1139.00,308.01 L1139.80,307.11 L1140.60,304.62 L1141.40,306.07 L1142.20,306.61 L1143.00,309.31 L1143.80,296.68 L1144.60,296.78 L1145.40,308.53 L1146.20,310.39 L1147.00,310.77 L1147.80,308.71 L1148.60,310.39 L1149.40,310.53 L1150.20,309.90 L1151.00,311.08 L1151.80,309.22 L1152.60,309.18 L1153.40,309.69 L1154.20,308.83 L1155.00,306.12 L1155.80,297.43 L1156.60,298.69 L1157.40,304.06 L1158.20,311.44 L1159.00,309.09 L1159.80,310.07 L1160.60,310.86 L1161.40,311.14 L1162.20,297.56 L1163.00,299.50 L1163.80,309.63 L1164.60,310.23 L1165.40,309.35 L1166.20,309.22 L1167.00,306.62 L1167.80,308.39 L1168.60,308.36 L1169.40,307.17 L1170.20,308.14 L1171.00,310.83 L1171.80,308.86 L1172.60,311.26 L1173.40,310.07 L1174.20,311.71 L1175.00,310.35 L1175.80,310.16 L1176.60,307.93 L1177.40,305.18 L1178.20,303.88 L1179.00,307.01 L1179.80,311.86 L1180.60,312.36 L1181.40,312.07 L1182.20,309.25 L1183.00,306.60 L1183.80,309.33 L1184.60,310.72 L1185.40,309.28 L1186.20,311.83 L1187.00,309.96 L1187.80,310.88 L1188.60,309.91 L1189.40,309.79 L1190.20,310.28 L1191.00,311.06 L1191.80,307.11 L1192.60,298.63 L1193.40,299.77 L1194.20,305.73 L1195.00,310.36 L1195.80,308.42 L1196.60,306.73 L1197.40,305.90 L1198.20,307.29 L1199.00,309.45 L1199.80,310.39 L1199.80,323.83 L1199.00,323.55 L1198.20,323.72 L1197.40,324.01 L1196.60,325.39 L1195.80,326.85 L1195.00,327.97 L1194.20,331.98 L1193.40,341.56 L1192.60,331.46 L1191.80,325.21 L1191.00,335.10 L1190.20,335.36 L1189.40,325.69 L1188.60,325.31 L1187.80,324.00 L1187.00,326.21 L1186.20,323.82 L1185.40,324.17 L1184.60,326.03 L1183.80,323.06 L1183.00,322.90 L1182.20,325.23 L1181.40,327.67 L1180.60,325.90 L1179.80,327.78 L1179.00,325.13 L1178.20,323.41 L1177.40,325.70 L1176.60,323.48 L1175.80,324.71 L1175.00,322.80 L1174.20,326.24 L1173.40,323.16 L1172.60,322.66 L1171.80,325.37 L1171.00,323.16 L1170.20,324.59 L1169.40,322.87 L1168.60,324.00 L1167.80,324.58 L1167.00,325.69 L1166.20,324.04 L1165.40,325.69 L1164.60,329.80 L1163.80,334.26 L1163.00,327.53 L1162.20,324.44 L1161.40,323.81 L1160.60,323.12 L1159.80,325.43 L1159.00,322.51 L1158.20,325.33 L1157.40,325.48 L1156.60,325.08 L1155.80,323.46 L1155.00,330.88 L1154.20,333.88 L1153.40,335.73 L1152.60,330.07 L1151.80,323.03 L1151.00,326.91 L1150.20,327.58 L1149.40,327.03 L1148.60,323.01 L1147.80,322.66 L1147.00,322.88 L1146.20,324.45 L1145.40,329.63 L1144.60,328.09 L1143.80,327.01 L1143.00,324.25 L1142.20,324.05 L1141.40,332.86 L1140.60,340.38 L1139.80,332.05 L1139.00,325.07 L1138.20,326.42 L1137.40,327.01 L1136.60,325.95 L1135.80,325.09 L1135.00,331.80 L1134.20,339.30 L1133.40,331.35 L1132.60,327.36 L1131.80,330.05 L1131.00,331.40 L1130.20,325.98 L1129.40,321.75 L1128.60,322.42 L1127.80,323.83 L1127.00,321.25 L1126.20,323.68 L1125.40,323.94 L1124.60,322.36 L1123.80,326.45 L1123.00,321.97 L1122.20,323.85 L1121.40,321.25 L1120.60,321.37 L1119.80,320.99 L1119.00,322.63 L1118.20,323.25 L1117.40,322.12 L1116.60,322.29 L1115.80,320.86 L1115.00,322.76 L1114.20,320.66 L1113.40,321.21 L1112.60,320.48 L1111.80,321.54 L1111.00,322.56 L1110.20,323.12 L1109.40,321.46 L1108.60,320.17 L1107.80,323.15 L1107.00,320.96 L1106.20,325.17 L1105.40,331.04 L1104.60,324.09 L1103.80,322.86 L1103.00,324.67 L1102.20,325.34 L1101.40,324.71 L1100.60,321.13 L1099.80,320.44 L1099.00,319.83 L1098.20,323.52 L1097.40,327.37 L1096.60,328.03 L1095.80,322.92 L1095.00,321.16 L1094.20,323.02 L1093.40,320.51 L1092.60,320.49 L1091.80,318.64 L1091.00,320.99 L1090.20,318.28 L1089.40,320.85 L1088.60,318.59 L1087.80,319.34 L1087.00,326.40 L1086.20,325.53 L1085.40,319.70 L1084.60,320.86 L1083.80,319.20 L1083.00,319.42 L1082.20,319.81 L1081.40,318.66 L1080.60,322.36 L1079.80,322.45 L1079.00,318.98 L1078.20,319.07 L1077.40,317.45 L1076.60,319.47 L1075.80,319.28 L1075.00,316.56 L1074.20,323.78 L1073.40,325.58 L1072.60,326.64 L1071.80,327.09 L1071.00,317.52 L1070.20,320.15 L1069.40,319.59 L1068.60,318.44 L1067.80,321.19 L1067.00,318.94 L1066.20,318.08 L1065.40,318.52 L1064.60,318.82 L1063.80,317.15 L1063.00,317.02 L1062.20,320.97 L1061.40,320.70 L1060.60,317.14 L1059.80,316.00 L1059.00,318.37 L1058.20,317.06 L1057.40,318.42 L1056.60,315.25 L1055.80,317.82 L1055.00,315.44 L1054.20,321.13 L1053.40,330.39 L1052.60,321.54 L1051.80,317.16 L1051.00,315.92 L1050.20,316.67 L1049.40,315.13 L1048.60,314.85 L1047.80,312.80 L1047.00,314.49 L1046.20,312.93 L1045.40,314.99 L1044.60,315.55 L1043.80,314.44 L1043.00,316.50 L1042.20,320.94 L1041.40,316.81 L1040.60,318.35 L1039.80,319.15 L1039.00,317.60 L1038.20,321.27 L1037.40,320.95 L1036.60,314.52 L1035.80,312.81 L1035.00,312.35 L1034.20,310.28 L1033.40,312.78 L1032.60,311.34 L1031.80,311.53 L1031.00,310.26 L1030.20,310.45 L1029.40,312.08 L1028.60,309.28 L1027.80,317.90 L1027.00,315.52 L1026.20,319.84 L1025.40,328.66 L1024.60,328.00 L1023.80,319.29 L1023.00,317.61 L1022.20,328.09 L1021.40,318.17 L1020.60,305.95 L1019.80,306.74 L1019.00,308.13 L1018.20,314.51 L1017.40,314.05 L1016.60,307.89 L1015.80,307.57 L1015.00,306.93 L1014.20,306.48 L1013.40,304.27 L1012.60,303.93 L1011.80,304.61 L1011.00,304.95 L1010.20,305.85 L1009.40,305.64 L1008.60,303.75 L1007.80,302.31 L1007.00,302.24 L1006.20,304.86 L1005.40,301.50 L1004.60,303.73 L1003.80,301.65 L1003.00,302.93 L1002.20,302.58 L1001.40,309.33 L1000.60,313.86 L999.80,317.82 L999.00,310.73 L998.20,301.74 L997.40,303.28 L996.60,302.26 L995.80,302.92 L995.00,301.00 L994.20,301.18 L993.40,298.31 L992.60,300.92 L991.80,300.96 L991.00,306.76 L990.20,303.08 L989.40,298.95 L988.60,296.91 L987.80,296.96 L987.00,295.73 L986.20,294.99 L985.40,297.56 L984.60,297.99 L983.80,299.40 L983.00,295.93 L982.20,295.01 L981.40,293.10 L980.60,291.07 L979.80,292.37 L979.00,291.46 L978.20,290.16 L977.40,290.87 L976.60,290.81 L975.80,289.40 L975.00,289.72 L974.20,287.56 L973.40,300.48 L972.60,311.88 L971.80,299.30 L971.00,286.29 L970.20,308.91 L969.40,333.66 L968.60,309.14 L967.80,289.08 L967.00,295.16 L966.20,286.24 L965.40,280.65 L964.60,280.07 L963.80,279.14 L963.00,276.53 L962.20,277.48 L961.40,274.56 L960.60,274.24 L959.80,277.86 L959.00,276.97 L958.20,276.08 L957.40,271.78 L956.60,271.34 L955.80,270.36 L955.00,268.52 L954.20,287.92 L953.40,305.53 L952.60,304.94 L951.80,281.41 L951.00,263.28 L950.20,259.96 L949.40,259.95 L948.60,273.05 L947.80,290.61 L947.00,288.85 L946.20,271.32 L945.40,260.95 L944.60,260.93 L943.80,249.82 L943.00,246.99 L942.20,244.38 L941.40,244.11 L940.60,242.55 L939.80,241.04 L939.00,244.46 L938.20,245.70 L937.40,246.69 L936.60,242.33 L935.80,238.81 L935.00,238.73 L934.20,236.55 L933.40,235.80 L932.60,244.03 L931.80,242.89 L931.00,231.08 L930.20,237.33 L929.40,237.16 L928.60,228.89 L927.80,227.75 L927.00,229.38 L926.20,235.31 L925.40,233.70 L924.60,225.07 L923.80,223.26 L923.00,231.91 L922.20,241.74 L921.40,242.90 L920.60,230.24 L919.80,218.54 L919.00,214.04 L918.20,214.04 L917.40,211.76 L916.60,212.03 L915.80,222.29 L915.00,231.72 L914.20,231.55 L913.40,217.54 L912.60,204.26 L911.80,203.45 L911.00,216.25 L910.20,229.17 L909.40,228.02 L908.60,211.51 L907.80,199.88 L907.00,213.51 L906.20,223.97 L905.40,209.75 L904.60,195.63 L903.80,191.76 L903.00,192.81 L902.20,195.73 L901.40,196.79 L900.60,193.33 L899.80,193.72 L899.00,191.66 L898.20,186.56 L897.40,183.64 L896.60,182.73 L895.80,182.61 L895.00,185.83 L894.20,192.72 L893.40,193.32 L892.60,186.85 L891.80,179.98 L891.00,190.54 L890.20,201.00 L889.40,200.93 L888.60,192.00 L887.80,183.01 L887.00,178.18 L886.20,198.46 L885.40,216.09 L884.60,237.57 L883.80,261.37 L883.00,285.26 L882.20,303.33 L881.40,310.69 L880.60,317.39 L879.80,321.07 L879.00,319.58 L878.20,315.98 L877.40,319.51 L876.60,320.38 L875.80,322.18 L875.00,321.44 L874.20,326.42 L873.40,331.45 L872.60,333.42 L871.80,330.52 Z" fill="#9fa0a4" stroke="#9fa0a4" stroke-width="1.0" stroke-linejoin="miter" stroke-miterlimit="20"/>
<path d="M871.80,323.00 L876.00,318.00 L880.00,312.00 L882.50,298.00 L884.70,232.60 L887.20,172.70 L888.50,160.00" fill="none" stroke="#9fa0a4" stroke-width="3.4" stroke-linejoin="round" stroke-linecap="butt"/>
<path d="M350.70,583.59 L351.30,582.31 L351.90,581.87 L352.50,582.10 L353.10,580.92 L353.70,580.19 L354.30,580.55 L354.90,579.00 L355.50,579.29 L356.10,578.75 L356.70,577.97 L357.30,576.48 L357.90,576.05 L358.50,574.98 L359.10,575.15 L359.70,574.42 L360.30,573.36 L360.90,572.71 L361.50,568.94 L362.10,566.53 L362.70,564.99 L363.30,561.88 L363.90,559.99 L364.50,554.52 L365.10,549.26 L365.70,542.23 L366.30,536.66 L366.90,530.69 L367.50,524.47 L368.10,519.22 L368.70,512.53 L369.30,507.41 L369.90,501.74 L370.50,496.83 L371.10,490.47 L371.70,485.30 L372.30,475.34 L372.90,468.94 L373.50,468.39 L374.10,468.36 L374.70,468.27 L375.30,468.08 L375.90,466.42 L376.50,465.74 L377.10,465.85 L377.70,464.96 L378.30,465.81 L378.90,467.10 L379.50,466.82 L380.10,466.07 L380.70,466.36 L381.30,463.08 L381.90,460.48 L382.50,463.20 L383.10,467.29 L383.70,467.80 L384.30,469.10 L384.90,469.23 L385.50,465.30 L386.10,464.64 L386.70,471.95 L387.30,472.06 L387.90,472.13 L388.50,473.13 L389.10,473.07 L389.70,474.43 L390.30,475.86 L390.90,475.89 L391.50,476.98 L392.10,477.25 L392.70,472.69 L393.30,472.75 L393.90,479.76 L394.50,480.89 L395.10,480.27 L395.70,481.41 L396.30,482.79 L396.90,480.61 L397.50,478.49 L398.10,478.86 L398.70,482.82 L399.30,486.26 L399.90,482.51 L400.50,479.38 L401.10,484.98 L401.70,486.88 L402.30,485.20 L402.90,488.46 L403.50,490.80 L404.10,488.48 L404.70,484.03 L405.30,489.44 L405.90,494.91 L406.50,496.03 L407.10,496.07 L407.70,493.74 L408.30,494.75 L408.90,498.29 L409.50,498.88 L410.10,500.95 L410.70,500.62 L411.30,500.42 L411.90,499.08 L412.50,500.96 L413.10,503.91 L413.70,506.26 L414.30,506.19 L414.90,506.01 L415.50,508.26 L416.10,510.63 L416.70,511.42 L417.30,511.48 L417.90,513.43 L418.50,516.04 L419.10,517.52 L419.70,518.13 L420.30,519.26 L420.90,521.31 L421.50,523.75 L422.10,525.15 L422.70,523.94 L423.30,524.63 L423.90,525.93 L424.50,528.01 L425.10,529.31 L425.70,529.36 L426.30,529.50 L426.90,530.96 L427.50,530.15 L428.10,529.05 L428.70,531.10 L429.30,533.29 L429.90,532.82 L430.50,534.42 L431.10,533.76 L431.70,534.56 L432.30,536.51 L432.90,538.13 L433.50,538.71 L434.10,537.44 L434.70,536.58 L435.30,537.67 L435.90,538.54 L436.50,537.57 L437.10,537.01 L437.70,538.71 L438.30,541.15 L438.90,541.05 L439.50,541.06 L440.10,540.90 L440.70,539.63 L441.30,540.50 L441.90,542.26 L442.50,541.86 L443.10,542.54 L443.70,540.68 L444.30,541.68 L444.90,542.97 L445.50,544.19 L446.10,544.27 L446.70,544.51 L447.30,544.57 L447.90,543.68 L448.50,544.85 L449.10,545.26 L449.70,546.47 L450.30,546.30 L450.90,546.78 L451.50,545.15 L452.10,545.92 L452.70,547.92 L453.30,547.32 L453.90,545.93 L454.50,544.78 L455.10,547.75 L455.70,547.99 L456.30,548.95 L456.90,548.72 L457.50,549.47 L458.10,550.05 L458.70,549.64 L459.30,549.86 L459.90,550.05 L460.50,550.34 L461.10,550.13 L461.70,550.53 L462.30,551.13 L462.90,551.98 L463.50,551.90 L464.10,550.79 L464.70,548.35 L465.30,550.22 L465.90,552.42 L466.50,552.63 L467.10,552.93 L467.70,553.28 L468.30,552.43 L468.90,551.54 L469.50,552.94 L470.10,552.97 L470.70,554.19 L471.30,554.16 L471.90,553.72 L472.50,555.06 L473.10,553.65 L473.70,554.74 L474.30,555.52 L474.90,555.40 L475.50,555.10 L476.10,555.29 L476.70,556.02 L477.30,556.54 L477.90,556.45 L478.50,556.89 L479.10,557.51 L479.70,557.13 L480.30,557.87 L480.90,558.33 L481.50,557.34 L482.10,558.47 L482.70,557.92 L483.30,558.31 L483.90,558.46 L484.50,558.41 L485.10,558.57 L485.70,558.80 L486.30,558.18 L486.90,555.79 L487.50,558.14 L488.10,560.47 L488.70,559.69 L489.30,560.35 L489.90,561.04 L490.50,560.52 L491.10,560.73 L491.70,560.42 L492.30,561.05 L492.90,560.25 L493.50,559.89 L494.10,561.88 L494.70,561.32 L495.30,561.28 L495.90,562.46 L496.50,562.78 L497.10,562.03 L497.70,562.22 L498.30,562.24 L498.90,562.43 L499.50,561.81 L500.10,562.86 L500.70,563.33 L501.30,563.72 L501.90,562.62 L502.50,561.94 L503.10,564.01 L503.70,563.51 L504.30,563.35 L504.90,563.64 L505.50,564.87 L506.10,564.29 L506.70,564.38 L507.30,565.34 L507.90,564.54 L508.50,564.18 L509.10,564.63 L509.70,564.85 L510.30,564.79 L510.90,565.50 L511.50,565.83 L512.10,566.23 L512.70,565.44 L513.30,565.39 L513.90,565.72 L514.50,565.89 L515.10,565.55 L515.70,566.22 L516.30,566.64 L516.90,566.31 L517.50,566.99 L518.10,566.64 L518.70,566.62 L519.30,565.85 L519.90,566.73 L520.50,566.35 L521.10,567.13 L521.70,564.78 L522.30,564.75 L522.90,567.01 L523.50,566.36 L524.10,565.95 L524.70,565.54 L525.30,567.33 L525.90,565.77 L526.50,564.99 L527.10,566.64 L527.70,566.67 L528.30,564.83 L528.90,567.26 L529.50,568.48 L530.10,568.28 L530.70,565.96 L531.30,568.02 L531.90,569.12 L532.50,569.12 L533.10,569.30 L533.70,569.47 L534.30,568.89 L534.90,568.85 L535.50,568.74 L536.10,569.11 L536.70,569.47 L537.30,569.75 L537.90,570.13 L538.50,569.85 L539.10,569.78 L539.70,570.90 L540.30,570.71 L540.90,569.83 L541.50,570.45 L542.10,570.56 L542.70,571.00 L543.30,571.27 L543.90,570.19 L544.50,570.71 L545.10,569.61 L545.70,570.68 L546.30,571.57 L546.90,571.99 L547.50,572.26 L548.10,571.60 L548.70,571.81 L549.30,572.55 L549.90,571.92 L550.50,571.52 L551.10,571.77 L551.70,572.72 L552.30,572.60 L552.90,573.07 L553.50,571.32 L554.10,570.50 L554.70,571.07 L555.30,572.35 L555.90,573.40 L556.50,572.34 L557.10,572.30 L557.70,570.83 L558.30,571.12 L558.90,572.68 L559.50,572.87 L560.10,573.08 L560.70,572.08 L561.30,571.00 L561.90,571.65 L562.50,572.12 L563.10,573.24 L563.70,573.09 L564.30,572.33 L564.90,573.68 L565.50,572.85 L566.10,573.55 L566.70,572.84 L567.30,573.04 L567.90,572.20 L568.50,572.51 L569.10,573.58 L569.70,572.47 L570.30,571.08 L570.90,572.88 L571.50,573.59 L572.10,573.39 L572.70,573.39 L573.30,573.39 L573.90,573.26 L574.50,572.68 L575.10,571.55 L575.70,572.57 L576.30,574.20 L576.90,572.73 L577.50,573.56 L578.10,574.37 L578.70,574.37 L579.30,574.06 L579.90,574.05 L580.50,574.68 L581.10,574.15 L581.70,574.65 L582.30,573.84 L582.90,573.88 L583.50,573.73 L584.10,574.76 L584.70,574.79 L585.30,574.53 L585.90,574.31 L586.50,574.87 L587.10,575.04 L587.70,574.67 L588.30,575.71 L588.90,574.36 L589.50,574.89 L590.10,574.74 L590.70,574.67 L591.30,574.42 L591.90,575.11 L592.50,576.04 L593.10,575.99 L593.70,574.94 L594.30,575.87 L594.90,575.47 L595.50,575.09 L596.10,574.45 L596.70,574.19 L597.30,576.04 L597.90,575.57 L598.50,574.41 L599.10,573.47 L599.70,576.52 L600.30,575.81 L600.90,576.13 L601.50,574.23 L602.10,574.76 L602.70,575.80 L603.30,575.60 L603.90,575.58 L604.50,576.63 L605.10,576.34 L605.70,576.58 L606.30,576.14 L606.90,575.55 L607.50,576.08 L608.10,575.64 L608.70,576.50 L609.30,575.95 L609.90,576.74 L610.50,575.89 L611.10,576.09 L611.70,574.70 L612.30,575.13 L612.90,577.05 L613.50,577.29 L614.10,576.99 L614.70,575.93 L615.30,575.36 L615.90,575.93 L616.50,576.43 L617.10,575.82 L617.70,574.81 L618.30,575.63 L618.90,576.51 L619.50,577.93 L620.10,575.47 L620.70,573.83 L621.30,575.79 L621.90,578.04 L622.50,577.75 L623.10,577.53 L623.70,576.81 L624.30,577.84 L624.90,576.36 L625.50,576.84 L626.10,576.31 L626.70,577.49 L627.30,577.93 L627.90,577.34 L628.50,577.89 L629.10,577.92 L629.70,577.39 L630.30,577.76 L630.90,577.08 L631.50,577.51 L632.10,577.13 L632.70,575.00 L633.30,576.75 L633.90,577.73 L634.50,577.96 L635.10,577.14 L635.70,577.50 L636.30,577.73 L636.90,578.02 L637.50,578.74 L638.10,578.26 L638.70,577.66 L639.30,578.74 L639.90,577.43 L640.50,578.00 L641.10,577.98 L641.70,578.79 L642.30,578.33 L642.90,578.01 L643.50,577.63 L644.10,577.46 L644.70,579.09 L645.30,579.12 L645.90,578.32 L646.50,579.53 L647.10,578.68 L647.70,578.34 L648.30,579.19 L648.90,579.00 L649.50,577.60 L650.10,577.59 L650.70,578.44 L651.30,578.22 L651.90,578.34 L652.50,578.12 L653.10,578.25 L653.70,578.31 L654.30,579.10 L654.90,578.84 L655.50,578.85 L656.10,578.49 L656.70,579.74 L657.30,578.39 L657.90,579.38 L658.50,579.55 L659.10,578.63 L659.70,579.61 L660.30,578.44 L660.90,579.04 L661.50,578.39 L662.10,580.13 L662.70,578.91 L663.30,578.74 L663.90,579.24 L664.50,578.23 L665.10,577.66 L665.10,582.56 L664.50,582.26 L663.90,582.63 L663.30,582.65 L662.70,582.76 L662.10,581.85 L661.50,583.12 L660.90,582.26 L660.30,582.08 L659.70,582.22 L659.10,582.67 L658.50,582.97 L657.90,584.65 L657.30,583.75 L656.70,582.69 L656.10,581.51 L655.50,582.62 L654.90,582.31 L654.30,583.14 L653.70,582.78 L653.10,582.29 L652.50,581.31 L651.90,581.58 L651.30,581.95 L650.70,582.93 L650.10,581.34 L649.50,582.88 L648.90,581.95 L648.30,582.75 L647.70,582.62 L647.10,583.59 L646.50,581.26 L645.90,581.52 L645.30,581.94 L644.70,582.64 L644.10,582.13 L643.50,582.68 L642.90,581.91 L642.30,581.41 L641.70,582.35 L641.10,581.81 L640.50,582.22 L639.90,582.22 L639.30,582.53 L638.70,581.94 L638.10,582.23 L637.50,581.62 L636.90,581.06 L636.30,581.76 L635.70,581.47 L635.10,580.95 L634.50,580.40 L633.90,581.39 L633.30,583.03 L632.70,583.38 L632.10,581.15 L631.50,581.11 L630.90,580.47 L630.30,580.99 L629.70,581.19 L629.10,581.91 L628.50,581.91 L627.90,580.60 L627.30,581.33 L626.70,580.17 L626.10,580.00 L625.50,580.97 L624.90,581.01 L624.30,581.92 L623.70,581.53 L623.10,581.58 L622.50,582.56 L621.90,581.42 L621.30,581.26 L620.70,582.24 L620.10,580.42 L619.50,580.69 L618.90,581.22 L618.30,581.11 L617.70,580.16 L617.10,579.31 L616.50,580.20 L615.90,579.87 L615.30,580.64 L614.70,580.83 L614.10,581.55 L613.50,579.42 L612.90,579.14 L612.30,581.07 L611.70,581.74 L611.10,582.17 L610.50,581.56 L609.90,579.84 L609.30,579.76 L608.70,580.86 L608.10,580.28 L607.50,580.77 L606.90,581.42 L606.30,580.34 L605.70,581.97 L605.10,581.27 L604.50,579.35 L603.90,579.58 L603.30,579.79 L602.70,579.32 L602.10,580.63 L601.50,580.27 L600.90,578.69 L600.30,578.43 L599.70,578.60 L599.10,580.39 L598.50,579.72 L597.90,578.85 L597.30,580.09 L596.70,581.01 L596.10,577.97 L595.50,578.55 L594.90,579.84 L594.30,579.14 L593.70,579.20 L593.10,578.51 L592.50,577.98 L591.90,578.71 L591.30,578.98 L590.70,578.74 L590.10,579.10 L589.50,579.64 L588.90,579.88 L588.30,578.35 L587.70,578.27 L587.10,577.30 L586.50,578.63 L585.90,578.58 L585.30,579.52 L584.70,579.33 L584.10,578.36 L583.50,577.15 L582.90,577.68 L582.30,578.29 L581.70,577.11 L581.10,576.88 L580.50,577.91 L579.90,578.87 L579.30,577.32 L578.70,579.29 L578.10,577.82 L577.50,577.57 L576.90,578.13 L576.30,577.01 L575.70,578.22 L575.10,577.36 L574.50,576.66 L573.90,577.84 L573.30,577.37 L572.70,576.20 L572.10,576.69 L571.50,578.03 L570.90,578.64 L570.30,578.46 L569.70,576.88 L569.10,577.05 L568.50,576.33 L567.90,577.89 L567.30,577.63 L566.70,576.96 L566.10,577.59 L565.50,580.07 L564.90,578.46 L564.30,576.27 L563.70,576.66 L563.10,577.78 L562.50,577.20 L561.90,575.82 L561.30,577.20 L560.70,577.00 L560.10,578.33 L559.50,579.83 L558.90,577.01 L558.30,575.30 L557.70,575.87 L557.10,575.75 L556.50,576.08 L555.90,576.13 L555.30,576.08 L554.70,576.07 L554.10,576.82 L553.50,576.16 L552.90,576.01 L552.30,576.67 L551.70,575.43 L551.10,574.80 L550.50,577.45 L549.90,577.68 L549.30,576.27 L548.70,574.91 L548.10,576.71 L547.50,576.34 L546.90,575.67 L546.30,574.52 L545.70,574.25 L545.10,574.87 L544.50,575.74 L543.90,575.10 L543.30,576.97 L542.70,577.08 L542.10,575.09 L541.50,572.91 L540.90,575.46 L540.30,576.75 L539.70,574.12 L539.10,573.40 L538.50,573.75 L537.90,572.77 L537.30,573.31 L536.70,574.21 L536.10,573.14 L535.50,574.66 L534.90,574.34 L534.30,571.81 L533.70,572.47 L533.10,574.04 L532.50,574.76 L531.90,574.26 L531.30,572.78 L530.70,571.63 L530.10,571.70 L529.50,571.85 L528.90,571.28 L528.30,571.49 L527.70,571.89 L527.10,571.43 L526.50,571.84 L525.90,570.96 L525.30,571.50 L524.70,570.68 L524.10,571.19 L523.50,569.89 L522.90,570.37 L522.30,571.80 L521.70,572.39 L521.10,570.33 L520.50,569.85 L519.90,570.07 L519.30,571.60 L518.70,571.25 L518.10,569.71 L517.50,569.47 L516.90,570.06 L516.30,569.34 L515.70,568.94 L515.10,569.87 L514.50,569.15 L513.90,569.50 L513.30,569.46 L512.70,569.71 L512.10,567.95 L511.50,568.88 L510.90,569.79 L510.30,569.42 L509.70,567.73 L509.10,567.28 L508.50,569.31 L507.90,569.73 L507.30,570.65 L506.70,569.10 L506.10,567.40 L505.50,567.62 L504.90,568.75 L504.30,569.68 L503.70,567.61 L503.10,566.47 L502.50,566.59 L501.90,566.45 L501.30,566.44 L500.70,568.32 L500.10,567.85 L499.50,567.93 L498.90,567.67 L498.30,567.38 L497.70,564.90 L497.10,565.12 L496.50,566.17 L495.90,566.22 L495.30,565.93 L494.70,564.03 L494.10,564.80 L493.50,564.43 L492.90,563.46 L492.30,563.59 L491.70,565.86 L491.10,565.38 L490.50,565.57 L489.90,563.83 L489.30,562.63 L488.70,563.53 L488.10,564.84 L487.50,564.23 L486.90,563.27 L486.30,562.57 L485.70,561.40 L485.10,562.50 L484.50,562.91 L483.90,561.84 L483.30,562.14 L482.70,560.75 L482.10,562.73 L481.50,564.72 L480.90,563.25 L480.30,560.65 L479.70,561.89 L479.10,560.77 L478.50,559.91 L477.90,559.80 L477.30,559.37 L476.70,559.87 L476.10,560.04 L475.50,559.58 L474.90,558.53 L474.30,559.56 L473.70,559.76 L473.10,558.13 L472.50,559.59 L471.90,558.12 L471.30,558.57 L470.70,557.13 L470.10,557.61 L469.50,556.93 L468.90,556.94 L468.30,556.71 L467.70,556.81 L467.10,556.70 L466.50,557.13 L465.90,555.77 L465.30,556.33 L464.70,555.27 L464.10,554.70 L463.50,555.13 L462.90,554.72 L462.30,554.15 L461.70,554.88 L461.10,554.14 L460.50,554.90 L459.90,553.33 L459.30,554.47 L458.70,552.92 L458.10,552.96 L457.50,552.47 L456.90,552.52 L456.30,552.73 L455.70,552.78 L455.10,552.70 L454.50,552.21 L453.90,551.53 L453.30,551.51 L452.70,552.16 L452.10,551.92 L451.50,552.30 L450.90,551.04 L450.30,550.20 L449.70,549.69 L449.10,548.96 L448.50,549.53 L447.90,548.62 L447.30,548.52 L446.70,550.61 L446.10,550.15 L445.50,548.04 L444.90,547.50 L444.30,547.37 L443.70,548.51 L443.10,548.09 L442.50,546.97 L441.90,546.62 L441.30,545.78 L440.70,545.08 L440.10,544.93 L439.50,544.22 L438.90,545.14 L438.30,543.83 L437.70,544.33 L437.10,543.49 L436.50,543.40 L435.90,543.83 L435.30,544.56 L434.70,545.80 L434.10,544.12 L433.50,542.02 L432.90,541.61 L432.30,540.80 L431.70,542.50 L431.10,542.99 L430.50,543.02 L429.90,544.93 L429.30,546.44 L428.70,543.03 L428.10,539.28 L427.50,538.99 L426.90,538.57 L426.30,538.09 L425.70,539.14 L425.10,537.16 L424.50,539.48 L423.90,540.08 L423.30,538.91 L422.70,536.42 L422.10,535.04 L421.50,535.96 L420.90,532.25 L420.30,532.97 L419.70,533.87 L419.10,530.40 L418.50,524.42 L417.90,523.69 L417.30,524.21 L416.70,523.10 L416.10,521.70 L415.50,522.90 L414.90,521.42 L414.30,517.45 L413.70,516.54 L413.10,515.22 L412.50,511.44 L411.90,512.33 L411.30,510.67 L410.70,510.50 L410.10,509.60 L409.50,509.92 L408.90,510.38 L408.30,508.25 L407.70,506.46 L407.10,505.65 L406.50,503.77 L405.90,505.46 L405.30,505.32 L404.70,504.49 L404.10,506.11 L403.50,502.45 L402.90,499.44 L402.30,497.82 L401.70,500.12 L401.10,500.73 L400.50,498.67 L399.90,495.78 L399.30,494.58 L398.70,493.51 L398.10,492.68 L397.50,492.27 L396.90,491.31 L396.30,490.68 L395.70,490.69 L395.10,491.84 L394.50,493.91 L393.90,490.46 L393.30,488.01 L392.70,487.98 L392.10,489.85 L391.50,486.77 L390.90,484.54 L390.30,484.31 L389.70,487.92 L389.10,488.01 L388.50,484.43 L387.90,487.74 L387.30,484.43 L386.70,480.09 L386.10,479.74 L385.50,479.04 L384.90,478.68 L384.30,480.48 L383.70,480.80 L383.10,478.31 L382.50,479.46 L381.90,477.07 L381.30,476.26 L380.70,475.07 L380.10,477.09 L379.50,476.68 L378.90,475.45 L378.30,476.85 L377.70,477.06 L377.10,481.51 L376.50,482.69 L375.90,477.40 L375.30,476.70 L374.70,477.50 L374.10,478.31 L373.50,480.46 L372.90,481.09 L372.30,485.49 L371.70,485.72 L371.10,492.31 L370.50,498.13 L369.90,503.13 L369.30,509.06 L368.70,513.57 L368.10,519.15 L367.50,525.85 L366.90,531.66 L366.30,538.04 L365.70,543.39 L365.10,548.83 L364.50,555.52 L363.90,561.10 L363.30,562.62 L362.70,565.84 L362.10,567.88 L361.50,570.16 L360.90,572.33 L360.30,574.24 L359.70,574.72 L359.10,576.57 L358.50,576.99 L357.90,576.91 L357.30,578.30 L356.70,579.10 L356.10,578.51 L355.50,580.48 L354.90,580.43 L354.30,580.40 L353.70,580.91 L353.10,582.89 L352.50,582.90 L351.90,583.64 L351.30,583.98 L350.70,584.99 Z" fill="#ff0000" stroke="#ff0000" stroke-width="3.0" stroke-linejoin="miter" stroke-miterlimit="20"/>
<path d="M873.30,581.17 L874.10,581.95 L874.90,580.54 L875.70,581.87 L876.50,580.63 L877.30,580.72 L878.10,580.23 L878.90,580.55 L879.70,581.69 L880.50,580.51 L881.30,581.31 L882.10,581.50 L882.90,580.93 L883.70,579.95 L884.50,575.25 L885.30,566.58 L886.10,558.01 L886.90,545.88 L887.70,533.28 L888.50,521.91 L889.30,509.34 L890.10,503.21 L890.90,497.42 L891.70,491.50 L892.50,488.39 L893.30,487.52 L894.10,485.40 L894.90,484.75 L895.70,482.81 L896.50,483.35 L897.30,482.70 L898.10,484.02 L898.90,484.44 L899.70,484.68 L900.50,484.41 L901.30,487.10 L902.10,487.71 L902.90,489.89 L903.70,490.56 L904.50,492.13 L905.30,493.06 L906.10,495.39 L906.90,496.10 L907.70,498.39 L908.50,499.43 L909.30,500.29 L910.10,500.93 L910.90,502.72 L911.70,504.34 L912.50,505.68 L913.30,507.54 L914.10,507.96 L914.90,510.27 L915.70,512.50 L916.50,514.08 L917.30,515.07 L918.10,516.53 L918.90,517.63 L919.70,518.92 L920.50,519.12 L921.30,519.10 L922.10,519.74 L922.90,521.12 L923.70,521.00 L924.50,521.66 L925.30,521.71 L926.10,522.93 L926.90,523.19 L927.70,524.58 L928.50,525.18 L929.30,525.62 L930.10,525.98 L930.90,524.80 L931.70,525.30 L932.50,526.22 L933.30,527.55 L934.10,527.51 L934.90,527.41 L935.70,527.58 L936.50,528.30 L937.30,528.52 L938.10,529.00 L938.90,530.53 L939.70,529.98 L940.50,530.25 L941.30,531.31 L942.10,530.66 L942.90,532.17 L943.70,532.08 L944.50,532.73 L945.30,532.69 L946.10,532.94 L946.90,532.35 L947.70,532.87 L948.50,533.03 L949.30,533.29 L950.10,534.47 L950.90,533.85 L951.70,534.74 L952.50,534.68 L953.30,533.93 L954.10,534.40 L954.90,535.30 L955.70,535.92 L956.50,535.16 L957.30,535.43 L958.10,535.90 L958.90,536.29 L959.70,536.46 L960.50,537.61 L961.30,537.28 L962.10,536.92 L962.90,537.28 L963.70,537.81 L964.50,537.43 L965.30,538.09 L966.10,537.74 L966.90,539.04 L967.70,539.63 L968.50,539.90 L969.30,539.57 L970.10,539.41 L970.90,539.94 L971.70,540.14 L972.50,539.68 L973.30,540.55 L974.10,540.68 L974.90,540.36 L975.70,541.02 L976.50,541.94 L977.30,541.80 L978.10,541.46 L978.90,541.51 L979.70,542.43 L980.50,542.50 L981.30,542.26 L982.10,542.79 L982.90,542.89 L983.70,543.50 L984.50,544.17 L985.30,543.47 L986.10,543.98 L986.90,544.24 L987.70,544.65 L988.50,544.10 L989.30,544.32 L990.10,545.75 L990.90,544.57 L991.70,545.75 L992.50,545.20 L993.30,545.83 L994.10,545.98 L994.90,545.81 L995.70,545.91 L996.50,547.53 L997.30,546.09 L998.10,546.50 L998.90,547.78 L999.70,547.34 L1000.50,547.24 L1001.30,548.50 L1002.10,549.07 L1002.90,547.87 L1003.70,548.97 L1004.50,548.61 L1005.30,549.90 L1006.10,549.37 L1006.90,550.11 L1007.70,549.89 L1008.50,549.14 L1009.30,549.90 L1010.10,550.57 L1010.90,549.78 L1011.70,549.86 L1012.50,551.68 L1013.30,551.76 L1014.10,551.47 L1014.90,550.61 L1015.70,551.96 L1016.50,552.68 L1017.30,552.51 L1018.10,552.59 L1018.90,552.29 L1019.70,552.84 L1020.50,553.57 L1021.30,553.00 L1022.10,552.43 L1022.90,552.76 L1023.70,554.41 L1024.50,554.18 L1025.30,554.78 L1026.10,553.57 L1026.90,553.69 L1027.70,554.93 L1028.50,554.67 L1029.30,554.93 L1030.10,554.72 L1030.90,555.87 L1031.70,556.11 L1032.50,556.21 L1033.30,555.87 L1034.10,556.14 L1034.90,556.13 L1035.70,556.42 L1036.50,556.33 L1037.30,556.74 L1038.10,557.79 L1038.90,557.66 L1039.70,556.62 L1040.50,557.75 L1041.30,558.18 L1042.10,557.48 L1042.90,558.62 L1043.70,558.87 L1044.50,557.47 L1045.30,558.63 L1046.10,558.35 L1046.90,558.66 L1047.70,558.97 L1048.50,559.69 L1049.30,559.44 L1050.10,560.06 L1050.90,559.07 L1051.70,560.21 L1052.50,559.65 L1053.30,559.43 L1054.10,560.71 L1054.90,560.46 L1055.70,559.99 L1056.50,561.35 L1057.30,560.78 L1058.10,561.27 L1058.90,561.99 L1059.70,560.97 L1060.50,561.52 L1061.30,561.68 L1062.10,561.37 L1062.90,561.98 L1063.70,562.92 L1064.50,562.60 L1065.30,561.98 L1066.10,562.89 L1066.90,562.93 L1067.70,562.64 L1068.50,563.35 L1069.30,562.98 L1070.10,563.87 L1070.90,563.32 L1071.70,564.26 L1072.50,563.47 L1073.30,563.41 L1074.10,563.77 L1074.90,563.48 L1075.70,564.91 L1076.50,565.21 L1077.30,564.25 L1078.10,564.01 L1078.90,565.24 L1079.70,565.27 L1080.50,564.25 L1081.30,564.44 L1082.10,564.87 L1082.90,564.29 L1083.70,564.51 L1084.50,564.93 L1085.30,564.51 L1086.10,564.63 L1086.90,565.54 L1087.70,565.07 L1088.50,566.26 L1089.30,566.42 L1090.10,565.97 L1090.90,565.34 L1091.70,566.29 L1092.50,565.62 L1093.30,566.65 L1094.10,565.93 L1094.90,566.49 L1095.70,566.67 L1096.50,566.67 L1097.30,566.84 L1098.10,566.18 L1098.90,565.91 L1099.70,566.38 L1100.50,567.53 L1101.30,565.95 L1102.10,566.47 L1102.90,566.59 L1103.70,566.91 L1104.50,567.76 L1105.30,566.59 L1106.10,566.54 L1106.90,566.47 L1107.70,567.13 L1108.50,567.90 L1109.30,567.49 L1110.10,567.92 L1110.90,567.75 L1111.70,567.56 L1112.50,567.72 L1113.30,567.14 L1114.10,568.86 L1114.90,568.55 L1115.70,567.48 L1116.50,567.75 L1117.30,568.88 L1118.10,568.46 L1118.90,568.97 L1119.70,569.06 L1120.50,568.05 L1121.30,569.34 L1122.10,568.31 L1122.90,568.27 L1123.70,569.45 L1124.50,569.65 L1125.30,568.81 L1126.10,569.03 L1126.90,569.73 L1127.70,569.00 L1128.50,569.32 L1129.30,570.36 L1130.10,568.86 L1130.90,570.38 L1131.70,570.33 L1132.50,570.58 L1133.30,569.28 L1134.10,569.25 L1134.90,569.73 L1135.70,569.30 L1136.50,570.71 L1137.30,570.13 L1138.10,570.67 L1138.90,570.09 L1139.70,570.16 L1140.50,571.03 L1141.30,569.59 L1142.10,569.82 L1142.90,571.01 L1143.70,570.58 L1144.50,570.98 L1145.30,571.42 L1146.10,571.07 L1146.90,570.83 L1147.70,571.14 L1148.50,570.80 L1149.30,570.29 L1150.10,570.53 L1150.90,571.66 L1151.70,571.00 L1152.50,570.16 L1153.30,571.31 L1154.10,572.00 L1154.90,571.39 L1155.70,571.20 L1156.50,571.19 L1157.30,571.56 L1158.10,571.58 L1158.90,571.41 L1159.70,572.21 L1160.50,572.22 L1161.30,572.07 L1162.10,572.01 L1162.90,572.03 L1163.70,571.13 L1164.50,571.70 L1165.30,571.34 L1166.10,571.26 L1166.90,572.64 L1167.70,571.39 L1168.50,572.48 L1169.30,572.55 L1170.10,571.82 L1170.90,571.17 L1171.70,571.48 L1172.50,572.36 L1173.30,572.52 L1174.10,571.92 L1174.90,572.40 L1175.70,571.65 L1176.50,572.58 L1177.30,572.84 L1178.10,572.88 L1178.90,572.53 L1179.70,572.58 L1180.50,571.59 L1181.30,572.11 L1182.10,572.40 L1182.90,571.84 L1183.70,571.88 L1184.50,573.51 L1185.30,573.05 L1186.10,572.87 L1186.90,573.14 L1187.70,573.50 L1188.50,573.12 L1189.30,572.78 L1190.10,572.76 L1190.90,573.84 L1191.70,573.85 L1192.50,572.44 L1193.30,573.68 L1194.10,573.40 L1194.90,572.90 L1195.70,573.57 L1196.50,572.86 L1197.30,573.74" fill="none" stroke="#ff0000" stroke-width="4.8" stroke-linejoin="round" stroke-linecap="butt"/>
<line x1="191.8" y1="128.4" x2="418.8" y2="128.4" stroke="#000" stroke-width="2.9" stroke-dasharray="13.8 14"/>
<line x1="191.8" y1="199.8" x2="317" y2="199.8" stroke="#000" stroke-width="2.9" stroke-dasharray="13.8 14"/>
<line x1="306.6" y1="214.2" x2="306.6" y2="309.9" stroke="#1e1e1e" stroke-width="2.0" />
<path d="M299.90000000000003,215.2 L306.6,202.7 L313.3,215.2 Z" fill="#1e1e1e"/>
<path d="M299.90000000000003,308.9 L306.6,321.4 L313.3,308.9 Z" fill="#1e1e1e"/>
<line x1="384.2" y1="140.7" x2="384.2" y2="311.3" stroke="#1e1e1e" stroke-width="2.0" />
<path d="M377.5,141.7 L384.2,129.2 L390.9,141.7 Z" fill="#1e1e1e"/>
<path d="M377.5,310.3 L384.2,322.8 L390.9,310.3 Z" fill="#1e1e1e"/>
<text transform="translate(343.5,266) rotate(-90)" font-size="34" fill="#262626" text-anchor="middle" textLength="53" lengthAdjust="spacingAndGlyphs">CaT</text>
<text transform="translate(442.6,320.6) rotate(-90) scale(0.935,1)" font-size="33" fill="#262626">SR Ca<tspan font-size="17.5" dy="-16">2+</tspan><tspan dy="16" dx="-1"> load</tspan></text>
<line x1="117.2" y1="714.2" x2="117.2" y2="1199.3" stroke="#000" stroke-width="3.8" />
<line x1="98.2" y1="1197.5" x2="117.2" y2="1197.5" stroke="#000" stroke-width="3.8" />
<text x="93.7" y="1212.3" font-size="38" fill="#000" text-anchor="end" >0</text>
<line x1="98.2" y1="1037.0" x2="117.2" y2="1037.0" stroke="#000" stroke-width="3.8" />
<text x="93.7" y="1051.8" font-size="38" fill="#000" text-anchor="end" >2</text>
<line x1="98.2" y1="876.5" x2="117.2" y2="876.5" stroke="#000" stroke-width="3.8" />
<text x="93.7" y="891.3" font-size="38" fill="#000" text-anchor="end" >4</text>
<line x1="98.2" y1="716.0" x2="117.2" y2="716.0" stroke="#000" stroke-width="3.8" />
<text x="93.7" y="730.8" font-size="38" fill="#000" text-anchor="end" >6</text>
<line x1="96.8" y1="1197.5" x2="602" y2="1197.5" stroke="#000" stroke-width="4" />
<line x1="182" y1="1197" x2="182" y2="1218" stroke="#000" stroke-width="4" />
<line x1="277.5" y1="1197" x2="277.5" y2="1218" stroke="#000" stroke-width="4" />
<line x1="438" y1="1197" x2="438" y2="1218" stroke="#000" stroke-width="4" />
<line x1="534" y1="1197" x2="534" y2="1218" stroke="#000" stroke-width="4" />
<text x="184.2" y="1255.2" font-size="42" fill="#262626" text-anchor="middle" >C</text>
<text x="278.6" y="1255.2" font-size="42" fill="#262626" text-anchor="middle" >AF</text>
<text x="440.2" y="1255.2" font-size="42" fill="#262626" text-anchor="middle" >C</text>
<text x="534.6" y="1255.2" font-size="42" fill="#262626" text-anchor="middle" >AF</text>
<text x="235" y="722.8" font-size="50" fill="#262626" text-anchor="middle" >LA</text>
<text x="496" y="722.6" font-size="50" fill="#262626" text-anchor="middle" >RA</text>
<text transform="translate(42.4,960.2) rotate(-90) scale(0.95,1)" font-size="45" fill="#262626" text-anchor="middle">CaT (a.u.)</text>
<text x="180.5" y="1150" font-size="25" fill="#a01c1c" text-anchor="middle" >47/9</text>
<text x="281" y="1192" font-size="25" fill="#a01c1c" text-anchor="middle" >63/10</text>
<text x="439" y="1117.5" font-size="25" fill="#a01c1c" text-anchor="middle" >48/9</text>
<text x="530.2" y="1190" font-size="25" fill="#a01c1c" text-anchor="middle" >52/9</text>
<rect x="152.7" y="938.5" width="58.0" height="105.5" fill="#e0e0e0"/>
<rect x="176.90" y="778.60" width="9.2" height="9.2" fill="none" stroke="#000" stroke-width="1.1"/>
<rect x="176.90" y="830.90" width="9.2" height="9.2" fill="none" stroke="#000" stroke-width="1.1"/>
<rect x="163.30" y="833.40" width="9.2" height="9.2" fill="none" stroke="#000" stroke-width="1.1"/>
<rect x="176.90" y="844.40" width="9.2" height="9.2" fill="none" stroke="#000" stroke-width="1.1"/>
<rect x="176.90" y="858.80" width="9.2" height="9.2" fill="none" stroke="#000" stroke-width="1.1"/>
<rect x="163.30" y="862.70" width="9.2" height="9.2" fill="none" stroke="#000" stroke-width="1.1"/>
<rect x="176.90" y="895.60" width="9.2" height="9.2" fill="none" stroke="#000" stroke-width="1.1"/>
<rect x="190.80" y="898.80" width="9.2" height="9.2" fill="none" stroke="#000" stroke-width="1.1"/>
<rect x="163.30" y="905.40" width="9.2" height="9.2" fill="none" stroke="#000" stroke-width="1.1"/>
<rect x="176.90" y="913.40" width="9.2" height="9.2" fill="none" stroke="#000" stroke-width="1.1"/>
<rect x="204.20" y="930.10" width="9.2" height="9.2" fill="none" stroke="#000" stroke-width="1.1"/>
<rect x="176.80" y="931.30" width="9.2" height="9.2" fill="none" stroke="#000" stroke-width="1.1"/>
<rect x="149.60" y="937.90" width="9.2" height="9.2" fill="none" stroke="#000" stroke-width="1.1"/>
<rect x="163.50" y="940.10" width="9.2" height="9.2" fill="none" stroke="#000" stroke-width="1.1"/>
<rect x="176.80" y="943.40" width="9.2" height="9.2" fill="none" stroke="#000" stroke-width="1.1"/>
<rect x="190.50" y="942.90" width="9.2" height="9.2" fill="none" stroke="#000" stroke-width="1.1"/>
<rect x="204.20" y="942.90" width="9.2" height="9.2" fill="none" stroke="#000" stroke-width="1.1"/>
<rect x="149.60" y="949.60" width="9.2" height="9.2" fill="none" stroke="#000" stroke-width="1.1"/>
<rect x="163.50" y="958.00" width="9.2" height="9.2" fill="none" stroke="#000" stroke-width="1.1"/>
<rect x="176.80" y="955.80" width="9.2" height="9.2" fill="none" stroke="#000" stroke-width="1.1"/>
<rect x="190.50" y="960.40" width="9.2" height="9.2" fill="none" stroke="#000" stroke-width="1.1"/>
<rect x="149.60" y="969.70" width="9.2" height="9.2" fill="none" stroke="#000" stroke-width="1.1"/>
<rect x="163.50" y="973.80" width="9.2" height="9.2" fill="none" stroke="#000" stroke-width="1.1"/>
<rect x="176.80" y="978.80" width="9.2" height="9.2" fill="none" stroke="#000" stroke-width="1.1"/>
<rect x="190.50" y="977.20" width="9.2" height="9.2" fill="none" stroke="#000" stroke-width="1.1"/>
<rect x="176.80" y="995.00" width="9.2" height="9.2" fill="none" stroke="#000" stroke-width="1.1"/>
<rect x="163.50" y="1010.20" width="9.2" height="9.2" fill="none" stroke="#000" stroke-width="1.1"/>
<rect x="190.50" y="1009.70" width="9.2" height="9.2" fill="none" stroke="#000" stroke-width="1.1"/>
<rect x="163.50" y="1030.60" width="9.2" height="9.2" fill="none" stroke="#000" stroke-width="1.1"/>
<rect x="149.60" y="1034.80" width="9.2" height="9.2" fill="none" stroke="#000" stroke-width="1.1"/>
<rect x="176.80" y="1033.10" width="9.2" height="9.2" fill="none" stroke="#000" stroke-width="1.1"/>
<rect x="190.50" y="1038.10" width="9.2" height="9.2" fill="none" stroke="#000" stroke-width="1.1"/>
<rect x="204.20" y="1029.80" width="9.2" height="9.2" fill="none" stroke="#000" stroke-width="1.1"/>
<rect x="163.50" y="1043.90" width="9.2" height="9.2" fill="none" stroke="#000" stroke-width="1.1"/>
<rect x="176.80" y="1043.90" width="9.2" height="9.2" fill="none" stroke="#000" stroke-width="1.1"/>
<rect x="204.20" y="1043.90" width="9.2" height="9.2" fill="none" stroke="#000" stroke-width="1.1"/>
<rect x="149.60" y="1051.00" width="9.2" height="9.2" fill="none" stroke="#000" stroke-width="1.1"/>
<rect x="190.50" y="1052.30" width="9.2" height="9.2" fill="none" stroke="#000" stroke-width="1.1"/>
<rect x="176.80" y="1056.40" width="9.2" height="9.2" fill="none" stroke="#000" stroke-width="1.1"/>
<rect x="163.50" y="1060.60" width="9.2" height="9.2" fill="none" stroke="#000" stroke-width="1.1"/>
<rect x="190.50" y="1067.40" width="9.2" height="9.2" fill="none" stroke="#000" stroke-width="1.1"/>
<rect x="176.80" y="1071.50" width="9.2" height="9.2" fill="none" stroke="#000" stroke-width="1.1"/>
<rect x="163.50" y="1076.40" width="9.2" height="9.2" fill="none" stroke="#000" stroke-width="1.1"/>
<rect x="163.50" y="1086.40" width="9.2" height="9.2" fill="none" stroke="#000" stroke-width="1.1"/>
<rect x="190.50" y="1087.40" width="9.2" height="9.2" fill="none" stroke="#000" stroke-width="1.1"/>
<rect x="152.7" y="938.5" width="58.0" height="105.5" fill="none" stroke="#000" stroke-width="2.6"/>
<line x1="181.7" y1="768.6" x2="181.7" y2="938.5" stroke="#000" stroke-width="3.8" />
<line x1="181.7" y1="1044" x2="181.7" y2="1119" stroke="#000" stroke-width="3.8" />
<line x1="165.7" y1="768.6" x2="197.7" y2="768.6" stroke="#000" stroke-width="5.2" />
<line x1="165.7" y1="1119" x2="197.7" y2="1119" stroke="#000" stroke-width="5.2" />
<line x1="135.8" y1="978.1" x2="229.3" y2="978.1" stroke="#000" stroke-width="6.6" />
<rect x="176.90" y="764.00" width="9.2" height="9.2" fill="#fff" stroke="#000" stroke-width="1.1"/>
<rect x="176.90" y="1114.20" width="9.2" height="9.2" fill="#fff" stroke="#000" stroke-width="1.1"/>
<rect x="249.5" y="988.9" width="57.19999999999999" height="86.50000000000011" fill="#ff0000"/>
<rect x="273.60" y="846.80" width="8.8" height="8.8" fill="#000" stroke="#d8d8d8" stroke-width="0.8"/>
<rect x="280.30" y="873.10" width="8.8" height="8.8" fill="#000" stroke="#d8d8d8" stroke-width="0.8"/>
<rect x="266.70" y="881.10" width="8.8" height="8.8" fill="#000" stroke="#d8d8d8" stroke-width="0.8"/>
<rect x="273.60" y="889.10" width="8.8" height="8.8" fill="#000" stroke="#d8d8d8" stroke-width="0.8"/>
<rect x="266.70" y="918.40" width="8.8" height="8.8" fill="#000" stroke="#d8d8d8" stroke-width="0.8"/>
<rect x="280.30" y="921.80" width="8.8" height="8.8" fill="#000" stroke="#d8d8d8" stroke-width="0.8"/>
<rect x="273.60" y="926.90" width="8.8" height="8.8" fill="#000" stroke="#d8d8d8" stroke-width="0.8"/>
<rect x="280.30" y="951.10" width="8.8" height="8.8" fill="#000" stroke="#d8d8d8" stroke-width="0.8"/>
<rect x="273.60" y="953.00" width="8.8" height="8.8" fill="#000" stroke="#d8d8d8" stroke-width="0.8"/>
<rect x="260.00" y="956.60" width="8.8" height="8.8" fill="#000" stroke="#d8d8d8" stroke-width="0.8"/>
<rect x="266.70" y="959.10" width="8.8" height="8.8" fill="#000" stroke="#d8d8d8" stroke-width="0.8"/>
<rect x="280.30" y="962.90" width="8.8" height="8.8" fill="#000" stroke="#d8d8d8" stroke-width="0.8"/>
<rect x="288.30" y="961.90" width="8.8" height="8.8" fill="#000" stroke="#d8d8d8" stroke-width="0.8"/>
<rect x="273.60" y="966.40" width="8.8" height="8.8" fill="#000" stroke="#d8d8d8" stroke-width="0.8"/>
<rect x="266.90" y="980.10" width="8.8" height="8.8" fill="#000" stroke="#d8d8d8" stroke-width="0.8"/>
<rect x="273.60" y="983.60" width="8.8" height="8.8" fill="#000" stroke="#d8d8d8" stroke-width="0.8"/>
<rect x="259.90" y="991.50" width="8.8" height="8.8" fill="#000" stroke="#d8d8d8" stroke-width="0.8"/>
<rect x="253.50" y="999.30" width="8.8" height="8.8" fill="#000" stroke="#d8d8d8" stroke-width="0.8"/>
<rect x="273.60" y="997.60" width="8.8" height="8.8" fill="#000" stroke="#d8d8d8" stroke-width="0.8"/>
<rect x="280.60" y="1001.10" width="8.8" height="8.8" fill="#000" stroke="#d8d8d8" stroke-width="0.8"/>
<rect x="287.60" y="993.20" width="8.8" height="8.8" fill="#000" stroke="#d8d8d8" stroke-width="0.8"/>
<rect x="294.10" y="997.60" width="8.8" height="8.8" fill="#000" stroke="#d8d8d8" stroke-width="0.8"/>
<rect x="266.90" y="1005.40" width="8.8" height="8.8" fill="#000" stroke="#d8d8d8" stroke-width="0.8"/>
<rect x="266.90" y="1016.80" width="8.8" height="8.8" fill="#000" stroke="#d8d8d8" stroke-width="0.8"/>
<rect x="280.60" y="1022.90" width="8.8" height="8.8" fill="#000" stroke="#d8d8d8" stroke-width="0.8"/>
<rect x="287.60" y="1019.40" width="8.8" height="8.8" fill="#000" stroke="#d8d8d8" stroke-width="0.8"/>
<rect x="273.60" y="1017.60" width="8.8" height="8.8" fill="#000" stroke="#d8d8d8" stroke-width="0.8"/>
<rect x="266.90" y="1029.90" width="8.8" height="8.8" fill="#000" stroke="#d8d8d8" stroke-width="0.8"/>
<rect x="280.60" y="1035.20" width="8.8" height="8.8" fill="#000" stroke="#d8d8d8" stroke-width="0.8"/>
<rect x="273.60" y="1044.60" width="8.8" height="8.8" fill="#000" stroke="#d8d8d8" stroke-width="0.8"/>
<rect x="259.90" y="1054.40" width="8.8" height="8.8" fill="#000" stroke="#d8d8d8" stroke-width="0.8"/>
<rect x="266.90" y="1058.80" width="8.8" height="8.8" fill="#000" stroke="#d8d8d8" stroke-width="0.8"/>
<rect x="273.60" y="1056.20" width="8.8" height="8.8" fill="#000" stroke="#d8d8d8" stroke-width="0.8"/>
<rect x="287.60" y="1055.30" width="8.8" height="8.8" fill="#000" stroke="#d8d8d8" stroke-width="0.8"/>
<rect x="294.10" y="1052.60" width="8.8" height="8.8" fill="#000" stroke="#d8d8d8" stroke-width="0.8"/>
<rect x="246.30" y="1064.90" width="8.8" height="8.8" fill="#000" stroke="#d8d8d8" stroke-width="0.8"/>
<rect x="253.50" y="1066.60" width="8.8" height="8.8" fill="#000" stroke="#d8d8d8" stroke-width="0.8"/>
<rect x="259.90" y="1065.80" width="8.8" height="8.8" fill="#000" stroke="#d8d8d8" stroke-width="0.8"/>
<rect x="273.60" y="1067.60" width="8.8" height="8.8" fill="#000" stroke="#d8d8d8" stroke-width="0.8"/>
<rect x="280.60" y="1064.00" width="8.8" height="8.8" fill="#000" stroke="#d8d8d8" stroke-width="0.8"/>
<rect x="294.10" y="1067.60" width="8.8" height="8.8" fill="#000" stroke="#d8d8d8" stroke-width="0.8"/>
<rect x="300.70" y="1069.30" width="8.8" height="8.8" fill="#000" stroke="#d8d8d8" stroke-width="0.8"/>
<rect x="246.30" y="1076.30" width="8.8" height="8.8" fill="#000" stroke="#d8d8d8" stroke-width="0.8"/>
<rect x="253.50" y="1077.10" width="8.8" height="8.8" fill="#000" stroke="#d8d8d8" stroke-width="0.8"/>
<rect x="259.90" y="1076.30" width="8.8" height="8.8" fill="#000" stroke="#d8d8d8" stroke-width="0.8"/>
<rect x="266.90" y="1075.40" width="8.8" height="8.8" fill="#000" stroke="#d8d8d8" stroke-width="0.8"/>
<rect x="273.60" y="1076.30" width="8.8" height="8.8" fill="#000" stroke="#d8d8d8" stroke-width="0.8"/>
<rect x="280.60" y="1076.30" width="8.8" height="8.8" fill="#000" stroke="#d8d8d8" stroke-width="0.8"/>
<rect x="287.60" y="1078.00" width="8.8" height="8.8" fill="#000" stroke="#d8d8d8" stroke-width="0.8"/>
<rect x="294.10" y="1078.00" width="8.8" height="8.8" fill="#000" stroke="#d8d8d8" stroke-width="0.8"/>
<rect x="266.90" y="1085.00" width="8.8" height="8.8" fill="#000" stroke="#d8d8d8" stroke-width="0.8"/>
<rect x="273.60" y="1084.10" width="8.8" height="8.8" fill="#000" stroke="#d8d8d8" stroke-width="0.8"/>
<rect x="280.60" y="1092.00" width="8.8" height="8.8" fill="#000" stroke="#d8d8d8" stroke-width="0.8"/>
<rect x="287.60" y="1090.30" width="8.8" height="8.8" fill="#000" stroke="#d8d8d8" stroke-width="0.8"/>
<rect x="266.90" y="1097.30" width="8.8" height="8.8" fill="#000" stroke="#d8d8d8" stroke-width="0.8"/>
<rect x="273.60" y="1099.90" width="8.8" height="8.8" fill="#000" stroke="#d8d8d8" stroke-width="0.8"/>
<rect x="266.90" y="1114.70" width="8.8" height="8.8" fill="#000" stroke="#d8d8d8" stroke-width="0.8"/>
<rect x="280.60" y="1113.90" width="8.8" height="8.8" fill="#000" stroke="#d8d8d8" stroke-width="0.8"/>
<rect x="249.5" y="988.9" width="57.19999999999999" height="86.50000000000011" fill="none" stroke="#000" stroke-width="2.6"/>
<line x1="278" y1="833.7" x2="278" y2="988.9" stroke="#000" stroke-width="3.8" />
<line x1="278" y1="1075.4" x2="278" y2="1159.4" stroke="#000" stroke-width="3.8" />
<line x1="262.0" y1="833.7" x2="294.0" y2="833.7" stroke="#000" stroke-width="5.2" />
<line x1="262.0" y1="1159.4" x2="294.0" y2="1159.4" stroke="#000" stroke-width="5.2" />
<line x1="231.6" y1="1051" x2="324.7" y2="1051" stroke="#000" stroke-width="6.6" />
<rect x="273.50" y="829.20" width="9" height="9" fill="#000" stroke="#e8e8e8" stroke-width="0.7"/>
<rect x="273.50" y="1154.90" width="9" height="9" fill="#000" stroke="#e8e8e8" stroke-width="0.7"/>
<rect x="409" y="951" width="58.60000000000002" height="70" fill="#e0e0e0"/>
<path d="M433.60,860.00 L443.00,860.00 L438.30,868.60 Z" fill="none" stroke="#000" stroke-width="1.1" stroke-linejoin="miter"/>
<path d="M426.40,871.70 L435.80,871.70 L431.10,880.30 Z" fill="none" stroke="#000" stroke-width="1.1" stroke-linejoin="miter"/>
<path d="M419.90,878.20 L429.30,878.20 L424.60,886.80 Z" fill="none" stroke="#000" stroke-width="1.1" stroke-linejoin="miter"/>
<path d="M433.60,874.40 L443.00,874.40 L438.30,883.00 Z" fill="none" stroke="#000" stroke-width="1.1" stroke-linejoin="miter"/>
<path d="M440.40,873.20 L449.80,873.20 L445.10,881.80 Z" fill="none" stroke="#000" stroke-width="1.1" stroke-linejoin="miter"/>
<path d="M440.40,889.00 L449.80,889.00 L445.10,897.60 Z" fill="none" stroke="#000" stroke-width="1.1" stroke-linejoin="miter"/>
<path d="M433.60,898.20 L443.00,898.20 L438.30,906.80 Z" fill="none" stroke="#000" stroke-width="1.1" stroke-linejoin="miter"/>
<path d="M426.40,927.40 L435.80,927.40 L431.10,936.00 Z" fill="none" stroke="#000" stroke-width="1.1" stroke-linejoin="miter"/>
<path d="M440.40,932.20 L449.80,932.20 L445.10,940.80 Z" fill="none" stroke="#000" stroke-width="1.1" stroke-linejoin="miter"/>
<path d="M426.40,941.30 L435.80,941.30 L431.10,949.90 Z" fill="none" stroke="#000" stroke-width="1.1" stroke-linejoin="miter"/>
<path d="M433.60,941.30 L443.00,941.30 L438.30,949.90 Z" fill="none" stroke="#000" stroke-width="1.1" stroke-linejoin="miter"/>
<path d="M447.30,947.00 L456.70,947.00 L452.00,955.60 Z" fill="none" stroke="#000" stroke-width="1.1" stroke-linejoin="miter"/>
<path d="M440.40,952.40 L449.80,952.40 L445.10,961.00 Z" fill="none" stroke="#000" stroke-width="1.1" stroke-linejoin="miter"/>
<path d="M446.90,947.40 L456.30,947.40 L451.60,956.00 Z" fill="none" stroke="#000" stroke-width="1.1" stroke-linejoin="miter"/>
<path d="M440.20,952.80 L449.60,952.80 L444.90,961.40 Z" fill="none" stroke="#000" stroke-width="1.1" stroke-linejoin="miter"/>
<path d="M411.80,959.60 L421.20,959.60 L416.50,968.20 Z" fill="none" stroke="#000" stroke-width="1.1" stroke-linejoin="miter"/>
<path d="M426.70,966.40 L436.10,966.40 L431.40,975.00 Z" fill="none" stroke="#000" stroke-width="1.1" stroke-linejoin="miter"/>
<path d="M433.40,967.70 L442.80,967.70 L438.10,976.30 Z" fill="none" stroke="#000" stroke-width="1.1" stroke-linejoin="miter"/>
<path d="M440.20,969.70 L449.60,969.70 L444.90,978.30 Z" fill="none" stroke="#000" stroke-width="1.1" stroke-linejoin="miter"/>
<path d="M446.90,963.00 L456.30,963.00 L451.60,971.60 Z" fill="none" stroke="#000" stroke-width="1.1" stroke-linejoin="miter"/>
<path d="M454.30,963.00 L463.70,963.00 L459.00,971.60 Z" fill="none" stroke="#000" stroke-width="1.1" stroke-linejoin="miter"/>
<path d="M403.70,974.50 L413.10,974.50 L408.40,983.10 Z" fill="none" stroke="#000" stroke-width="1.1" stroke-linejoin="miter"/>
<path d="M411.80,971.80 L421.20,971.80 L416.50,980.40 Z" fill="none" stroke="#000" stroke-width="1.1" stroke-linejoin="miter"/>
<path d="M426.70,979.20 L436.10,979.20 L431.40,987.80 Z" fill="none" stroke="#000" stroke-width="1.1" stroke-linejoin="miter"/>
<path d="M433.40,979.20 L442.80,979.20 L438.10,987.80 Z" fill="none" stroke="#000" stroke-width="1.1" stroke-linejoin="miter"/>
<path d="M461.10,975.80 L470.50,975.80 L465.80,984.40 Z" fill="none" stroke="#000" stroke-width="1.1" stroke-linejoin="miter"/>
<path d="M411.80,987.30 L421.20,987.30 L416.50,995.90 Z" fill="none" stroke="#000" stroke-width="1.1" stroke-linejoin="miter"/>
<path d="M419.20,987.30 L428.60,987.30 L423.90,995.90 Z" fill="none" stroke="#000" stroke-width="1.1" stroke-linejoin="miter"/>
<path d="M426.70,990.00 L436.10,990.00 L431.40,998.60 Z" fill="none" stroke="#000" stroke-width="1.1" stroke-linejoin="miter"/>
<path d="M433.40,990.00 L442.80,990.00 L438.10,998.60 Z" fill="none" stroke="#000" stroke-width="1.1" stroke-linejoin="miter"/>
<path d="M440.20,987.30 L449.60,987.30 L444.90,995.90 Z" fill="none" stroke="#000" stroke-width="1.1" stroke-linejoin="miter"/>
<path d="M446.90,987.30 L456.30,987.30 L451.60,995.90 Z" fill="none" stroke="#000" stroke-width="1.1" stroke-linejoin="miter"/>
<path d="M454.30,986.60 L463.70,986.60 L459.00,995.20 Z" fill="none" stroke="#000" stroke-width="1.1" stroke-linejoin="miter"/>
<path d="M440.20,998.80 L449.60,998.80 L444.90,1007.40 Z" fill="none" stroke="#000" stroke-width="1.1" stroke-linejoin="miter"/>
<path d="M426.70,1004.90 L436.10,1004.90 L431.40,1013.50 Z" fill="none" stroke="#000" stroke-width="1.1" stroke-linejoin="miter"/>
<path d="M433.40,1006.90 L442.80,1006.90 L438.10,1015.50 Z" fill="none" stroke="#000" stroke-width="1.1" stroke-linejoin="miter"/>
<path d="M433.40,1017.00 L442.80,1017.00 L438.10,1025.60 Z" fill="none" stroke="#000" stroke-width="1.1" stroke-linejoin="miter"/>
<path d="M426.70,1021.80 L436.10,1021.80 L431.40,1030.40 Z" fill="none" stroke="#000" stroke-width="1.1" stroke-linejoin="miter"/>
<path d="M440.20,1023.80 L449.60,1023.80 L444.90,1032.40 Z" fill="none" stroke="#000" stroke-width="1.1" stroke-linejoin="miter"/>
<path d="M426.70,1031.20 L436.10,1031.20 L431.40,1039.80 Z" fill="none" stroke="#000" stroke-width="1.1" stroke-linejoin="miter"/>
<path d="M440.20,1034.60 L449.60,1034.60 L444.90,1043.20 Z" fill="none" stroke="#000" stroke-width="1.1" stroke-linejoin="miter"/>
<path d="M419.20,1053.50 L428.60,1053.50 L423.90,1062.10 Z" fill="none" stroke="#000" stroke-width="1.1" stroke-linejoin="miter"/>
<path d="M433.40,1050.80 L442.80,1050.80 L438.10,1059.40 Z" fill="none" stroke="#000" stroke-width="1.1" stroke-linejoin="miter"/>
<path d="M440.20,1054.20 L449.60,1054.20 L444.90,1062.80 Z" fill="none" stroke="#000" stroke-width="1.1" stroke-linejoin="miter"/>
<path d="M446.90,1052.80 L456.30,1052.80 L451.60,1061.40 Z" fill="none" stroke="#000" stroke-width="1.1" stroke-linejoin="miter"/>
<path d="M426.70,1060.30 L436.10,1060.30 L431.40,1068.90 Z" fill="none" stroke="#000" stroke-width="1.1" stroke-linejoin="miter"/>
<path d="M433.40,1060.30 L442.80,1060.30 L438.10,1068.90 Z" fill="none" stroke="#000" stroke-width="1.1" stroke-linejoin="miter"/>
<path d="M440.20,1067.70 L449.60,1067.70 L444.90,1076.30 Z" fill="none" stroke="#000" stroke-width="1.1" stroke-linejoin="miter"/>
<rect x="409" y="951" width="58.60000000000002" height="70" fill="none" stroke="#000" stroke-width="2.6"/>
<line x1="438.2" y1="828.1" x2="438.2" y2="951" stroke="#000" stroke-width="3.8" />
<line x1="438.2" y1="1021" x2="438.2" y2="1077.6" stroke="#000" stroke-width="3.8" />
<line x1="422.2" y1="828.1" x2="454.2" y2="828.1" stroke="#000" stroke-width="5.2" />
<line x1="422.2" y1="1077.6" x2="454.2" y2="1077.6" stroke="#000" stroke-width="5.2" />
<line x1="392.4" y1="983.2" x2="485.4" y2="983.2" stroke="#000" stroke-width="6.6" />
<path d="M433.60,823.30 L443.00,823.30 L438.30,831.90 Z" fill="#fff" stroke="#000" stroke-width="1.1" stroke-linejoin="miter"/>
<path d="M426.70,1073.10 L436.10,1073.10 L431.40,1081.70 Z" fill="#fff" stroke="#000" stroke-width="1.1" stroke-linejoin="miter"/>
<rect x="505.7" y="995.1" width="57.80000000000001" height="74.69999999999993" fill="#ff0000"/>
<path d="M529.60,914.30 L539.00,914.30 L534.30,922.70 Z" fill="#000" stroke="#d8d8d8" stroke-width="0.8" stroke-linejoin="miter"/>
<path d="M538.70,937.00 L548.10,937.00 L543.40,945.40 Z" fill="#000" stroke="#d8d8d8" stroke-width="0.8" stroke-linejoin="miter"/>
<path d="M520.60,943.00 L530.00,943.00 L525.30,951.40 Z" fill="#000" stroke="#d8d8d8" stroke-width="0.8" stroke-linejoin="miter"/>
<path d="M529.60,948.30 L539.00,948.30 L534.30,956.70 Z" fill="#000" stroke="#d8d8d8" stroke-width="0.8" stroke-linejoin="miter"/>
<path d="M538.70,947.50 L548.10,947.50 L543.40,955.90 Z" fill="#000" stroke="#d8d8d8" stroke-width="0.8" stroke-linejoin="miter"/>
<path d="M511.20,958.90 L520.60,958.90 L515.90,967.30 Z" fill="#000" stroke="#d8d8d8" stroke-width="0.8" stroke-linejoin="miter"/>
<path d="M520.60,958.90 L530.00,958.90 L525.30,967.30 Z" fill="#000" stroke="#d8d8d8" stroke-width="0.8" stroke-linejoin="miter"/>
<path d="M529.60,964.20 L539.00,964.20 L534.30,972.60 Z" fill="#000" stroke="#d8d8d8" stroke-width="0.8" stroke-linejoin="miter"/>
<path d="M538.70,963.40 L548.10,963.40 L543.40,971.80 Z" fill="#000" stroke="#d8d8d8" stroke-width="0.8" stroke-linejoin="miter"/>
<path d="M511.20,983.80 L520.60,983.80 L515.90,992.20 Z" fill="#000" stroke="#d8d8d8" stroke-width="0.8" stroke-linejoin="miter"/>
<path d="M520.60,986.80 L530.00,986.80 L525.30,995.20 Z" fill="#000" stroke="#d8d8d8" stroke-width="0.8" stroke-linejoin="miter"/>
<path d="M529.60,982.30 L539.00,982.30 L534.30,990.70 Z" fill="#000" stroke="#d8d8d8" stroke-width="0.8" stroke-linejoin="miter"/>
<path d="M538.70,991.30 L548.10,991.30 L543.40,999.70 Z" fill="#000" stroke="#d8d8d8" stroke-width="0.8" stroke-linejoin="miter"/>
<path d="M547.80,991.30 L557.20,991.30 L552.50,999.70 Z" fill="#000" stroke="#d8d8d8" stroke-width="0.8" stroke-linejoin="miter"/>
<path d="M520.60,998.10 L530.00,998.10 L525.30,1006.50 Z" fill="#000" stroke="#d8d8d8" stroke-width="0.8" stroke-linejoin="miter"/>
<path d="M529.60,997.40 L539.00,997.40 L534.30,1005.80 Z" fill="#000" stroke="#d8d8d8" stroke-width="0.8" stroke-linejoin="miter"/>
<path d="M538.70,1004.20 L548.10,1004.20 L543.40,1012.60 Z" fill="#000" stroke="#d8d8d8" stroke-width="0.8" stroke-linejoin="miter"/>
<path d="M538.70,1011.00 L548.10,1011.00 L543.40,1019.40 Z" fill="#000" stroke="#d8d8d8" stroke-width="0.8" stroke-linejoin="miter"/>
<path d="M511.20,1013.50 L520.60,1013.50 L515.90,1021.90 Z" fill="#000" stroke="#d8d8d8" stroke-width="0.8" stroke-linejoin="miter"/>
<path d="M520.60,1011.00 L530.00,1011.00 L525.30,1019.40 Z" fill="#000" stroke="#d8d8d8" stroke-width="0.8" stroke-linejoin="miter"/>
<path d="M529.60,1010.20 L539.00,1010.20 L534.30,1018.60 Z" fill="#000" stroke="#d8d8d8" stroke-width="0.8" stroke-linejoin="miter"/>
<path d="M547.80,1011.00 L557.20,1011.00 L552.50,1019.40 Z" fill="#000" stroke="#d8d8d8" stroke-width="0.8" stroke-linejoin="miter"/>
<path d="M538.70,1017.70 L548.10,1017.70 L543.40,1026.10 Z" fill="#000" stroke="#d8d8d8" stroke-width="0.8" stroke-linejoin="miter"/>
<path d="M520.60,1022.30 L530.00,1022.30 L525.30,1030.70 Z" fill="#000" stroke="#d8d8d8" stroke-width="0.8" stroke-linejoin="miter"/>
<path d="M556.30,1033.60 L565.70,1033.60 L561.00,1042.00 Z" fill="#000" stroke="#d8d8d8" stroke-width="0.8" stroke-linejoin="miter"/>
<path d="M502.30,1036.60 L511.70,1036.60 L507.00,1045.00 Z" fill="#000" stroke="#d8d8d8" stroke-width="0.8" stroke-linejoin="miter"/>
<path d="M520.60,1036.60 L530.00,1036.60 L525.30,1045.00 Z" fill="#000" stroke="#d8d8d8" stroke-width="0.8" stroke-linejoin="miter"/>
<path d="M502.30,1047.20 L511.70,1047.20 L507.00,1055.60 Z" fill="#000" stroke="#d8d8d8" stroke-width="0.8" stroke-linejoin="miter"/>
<path d="M511.20,1043.40 L520.60,1043.40 L515.90,1051.80 Z" fill="#000" stroke="#d8d8d8" stroke-width="0.8" stroke-linejoin="miter"/>
<path d="M529.60,1043.40 L539.00,1043.40 L534.30,1051.80 Z" fill="#000" stroke="#d8d8d8" stroke-width="0.8" stroke-linejoin="miter"/>
<path d="M538.70,1043.40 L548.10,1043.40 L543.40,1051.80 Z" fill="#000" stroke="#d8d8d8" stroke-width="0.8" stroke-linejoin="miter"/>
<path d="M556.30,1044.90 L565.70,1044.90 L561.00,1053.30 Z" fill="#000" stroke="#d8d8d8" stroke-width="0.8" stroke-linejoin="miter"/>
<path d="M520.60,1050.90 L530.00,1050.90 L525.30,1059.30 Z" fill="#000" stroke="#d8d8d8" stroke-width="0.8" stroke-linejoin="miter"/>
<path d="M529.60,1054.00 L539.00,1054.00 L534.30,1062.40 Z" fill="#000" stroke="#d8d8d8" stroke-width="0.8" stroke-linejoin="miter"/>
<path d="M538.70,1055.50 L548.10,1055.50 L543.40,1063.90 Z" fill="#000" stroke="#d8d8d8" stroke-width="0.8" stroke-linejoin="miter"/>
<path d="M547.80,1051.70 L557.20,1051.70 L552.50,1060.10 Z" fill="#000" stroke="#d8d8d8" stroke-width="0.8" stroke-linejoin="miter"/>
<path d="M547.80,1062.30 L557.20,1062.30 L552.50,1070.70 Z" fill="#000" stroke="#d8d8d8" stroke-width="0.8" stroke-linejoin="miter"/>
<path d="M511.20,1066.80 L520.60,1066.80 L515.90,1075.20 Z" fill="#000" stroke="#d8d8d8" stroke-width="0.8" stroke-linejoin="miter"/>
<path d="M520.60,1069.80 L530.00,1069.80 L525.30,1078.20 Z" fill="#000" stroke="#d8d8d8" stroke-width="0.8" stroke-linejoin="miter"/>
<path d="M538.70,1075.80 L548.10,1075.80 L543.40,1084.20 Z" fill="#000" stroke="#d8d8d8" stroke-width="0.8" stroke-linejoin="miter"/>
<path d="M547.80,1074.30 L557.20,1074.30 L552.50,1082.70 Z" fill="#000" stroke="#d8d8d8" stroke-width="0.8" stroke-linejoin="miter"/>
<path d="M511.20,1085.70 L520.60,1085.70 L515.90,1094.10 Z" fill="#000" stroke="#d8d8d8" stroke-width="0.8" stroke-linejoin="miter"/>
<path d="M520.60,1083.40 L530.00,1083.40 L525.30,1091.80 Z" fill="#000" stroke="#d8d8d8" stroke-width="0.8" stroke-linejoin="miter"/>
<path d="M547.80,1086.40 L557.20,1086.40 L552.50,1094.80 Z" fill="#000" stroke="#d8d8d8" stroke-width="0.8" stroke-linejoin="miter"/>
<path d="M529.60,1092.50 L539.00,1092.50 L534.30,1100.90 Z" fill="#000" stroke="#d8d8d8" stroke-width="0.8" stroke-linejoin="miter"/>
<path d="M538.70,1092.50 L548.10,1092.50 L543.40,1100.90 Z" fill="#000" stroke="#d8d8d8" stroke-width="0.8" stroke-linejoin="miter"/>
<path d="M538.70,1106.80 L548.10,1106.80 L543.40,1115.20 Z" fill="#000" stroke="#d8d8d8" stroke-width="0.8" stroke-linejoin="miter"/>
<path d="M520.60,1110.60 L530.00,1110.60 L525.30,1119.00 Z" fill="#000" stroke="#d8d8d8" stroke-width="0.8" stroke-linejoin="miter"/>
<path d="M529.60,1127.20 L539.00,1127.20 L534.30,1135.60 Z" fill="#000" stroke="#d8d8d8" stroke-width="0.8" stroke-linejoin="miter"/>
<rect x="505.7" y="995.1" width="57.80000000000001" height="74.69999999999993" fill="none" stroke="#000" stroke-width="2.6"/>
<line x1="534.3" y1="840.8" x2="534.3" y2="995.1" stroke="#000" stroke-width="3.8" />
<line x1="534.3" y1="1069.8" x2="534.3" y2="1158.9" stroke="#000" stroke-width="3.8" />
<line x1="518.3" y1="840.8" x2="550.3" y2="840.8" stroke="#000" stroke-width="5.2" />
<line x1="518.3" y1="1158.9" x2="550.3" y2="1158.9" stroke="#000" stroke-width="5.2" />
<line x1="490.6" y1="1041.1" x2="583.8" y2="1041.1" stroke="#000" stroke-width="6.6" />
<path d="M529.60,836.60 L539.00,836.60 L534.30,845.00 Z" fill="#000" stroke="#d8d8d8" stroke-width="0.8" stroke-linejoin="miter"/>
<path d="M529.60,1154.30 L539.00,1154.30 L534.30,1162.70 Z" fill="#000" stroke="#d8d8d8" stroke-width="0.8" stroke-linejoin="miter"/>
<line x1="864.1" y1="714.5" x2="864.1" y2="1199.8" stroke="#000" stroke-width="3.8" />
<line x1="845.1" y1="1198.0" x2="864.1" y2="1198.0" stroke="#000" stroke-width="3.8" />
<text x="839.3000000000001" y="1212.3" font-size="38" fill="#000" text-anchor="end" >0</text>
<line x1="845.1" y1="1077.6" x2="864.1" y2="1077.6" stroke="#000" stroke-width="3.8" />
<text x="839.3000000000001" y="1091.8999999999999" font-size="38" fill="#000" text-anchor="end" >5</text>
<line x1="845.1" y1="957.2" x2="864.1" y2="957.2" stroke="#000" stroke-width="3.8" />
<text x="839.3000000000001" y="971.5" font-size="38" fill="#000" text-anchor="end" >10</text>
<line x1="845.1" y1="836.8" x2="864.1" y2="836.8" stroke="#000" stroke-width="3.8" />
<text x="839.3000000000001" y="851.0999999999999" font-size="38" fill="#000" text-anchor="end" >15</text>
<line x1="845.1" y1="716.4000000000001" x2="864.1" y2="716.4000000000001" stroke="#000" stroke-width="3.8" />
<text x="839.3000000000001" y="730.7" font-size="38" fill="#000" text-anchor="end" >20</text>
<line x1="844.3" y1="1197.9" x2="1348" y2="1197.9" stroke="#000" stroke-width="4" />
<line x1="928" y1="1197" x2="928" y2="1217.5" stroke="#000" stroke-width="4" />
<line x1="1024.2" y1="1197" x2="1024.2" y2="1217.5" stroke="#000" stroke-width="4" />
<line x1="1184.3" y1="1197" x2="1184.3" y2="1217.5" stroke="#000" stroke-width="4" />
<line x1="1280.2" y1="1197" x2="1280.2" y2="1217.5" stroke="#000" stroke-width="4" />
<text x="931.3" y="1255.2" font-size="42" fill="#262626" text-anchor="middle" >C</text>
<text x="1026.1" y="1255.2" font-size="42" fill="#262626" text-anchor="middle" >AF</text>
<text x="1187.2" y="1255.2" font-size="42" fill="#262626" text-anchor="middle" >C</text>
<text x="1282.5" y="1255.2" font-size="42" fill="#262626" text-anchor="middle" >AF</text>
<text x="983.5" y="715.5" font-size="50" fill="#262626" text-anchor="middle" >LA</text>
<text x="1245" y="715.5" font-size="50" fill="#262626" text-anchor="middle" >RA</text>
<text transform="translate(775.8,969) rotate(-90) scale(0.967,1)" font-size="45" fill="#262626" text-anchor="middle">SR Ca<tspan font-size="19" dy="-21.5">2+</tspan><tspan dy="21.5" dx="-3.5"> load (a.u.)</tspan></text>
<text x="929" y="921.5" font-size="25" fill="#a01c1c" text-anchor="middle" >10/4</text>
<text x="1022" y="776.5" font-size="25" fill="#a01c1c" text-anchor="middle" >7/4</text>
<text x="1184.7" y="850" font-size="25" fill="#a01c1c" text-anchor="middle" >6/4</text>
<text x="1289.7" y="1049.5" font-size="25" fill="#a01c1c" text-anchor="middle" >6/4</text>
<rect x="899.4" y="1025.2" width="57.39999999999998" height="139.70000000000005" fill="#e0e0e0"/>
<rect x="899.4" y="1025.2" width="57.39999999999998" height="139.70000000000005" fill="none" stroke="#000" stroke-width="2.5"/>
<line x1="927.5" y1="941.8" x2="927.5" y2="1025.2" stroke="#000" stroke-width="3" />
<line x1="927.5" y1="1164.9" x2="927.5" y2="1174.4" stroke="#000" stroke-width="3" />
<line x1="912.5" y1="941.8" x2="942.5" y2="941.8" stroke="#000" stroke-width="5" />
<line x1="912.5" y1="1174.4" x2="942.5" y2="1174.4" stroke="#000" stroke-width="5" />
<line x1="883.7" y1="1079" x2="976.2" y2="1079" stroke="#000" stroke-width="6.6" />
<rect x="922.90" y="937.20" width="9.2" height="9.2" fill="#fff" stroke="#000" stroke-width="1.1"/>
<rect x="922.90" y="970.10" width="9.2" height="9.2" fill="#fff" stroke="#000" stroke-width="1.1"/>
<rect x="942.40" y="1032.70" width="9.2" height="9.2" fill="#fff" stroke="#000" stroke-width="1.1"/>
<rect x="922.90" y="1041.80" width="9.2" height="9.2" fill="#fff" stroke="#000" stroke-width="1.1"/>
<rect x="922.90" y="1054.20" width="9.2" height="9.2" fill="#fff" stroke="#000" stroke-width="1.1"/>
<rect x="922.90" y="1094.40" width="9.2" height="9.2" fill="#fff" stroke="#000" stroke-width="1.1"/>
<rect x="922.90" y="1146.00" width="9.2" height="9.2" fill="#fff" stroke="#000" stroke-width="1.1"/>
<rect x="922.90" y="1161.40" width="9.2" height="9.2" fill="#fff" stroke="#000" stroke-width="1.1"/>
<rect x="903.90" y="1169.80" width="9.2" height="9.2" fill="#fff" stroke="#000" stroke-width="1.1"/>
<rect x="942.40" y="1168.70" width="9.2" height="9.2" fill="#fff" stroke="#000" stroke-width="1.1"/>
<rect x="995.2" y="869.8" width="57.799999999999955" height="299.79999999999995" fill="#ff0000"/>
<rect x="995.2" y="869.8" width="57.799999999999955" height="299.79999999999995" fill="none" stroke="#000" stroke-width="2.5"/>
<line x1="1024.4" y1="798.5" x2="1024.4" y2="869.8" stroke="#000" stroke-width="3" />
<line x1="1024.4" y1="1169.6" x2="1024.4" y2="1175" stroke="#000" stroke-width="3" />
<line x1="1007.9000000000001" y1="798.5" x2="1040.9" y2="798.5" stroke="#000" stroke-width="5" />
<line x1="1007.9000000000001" y1="1175" x2="1040.9" y2="1175" stroke="#000" stroke-width="5" />
<line x1="978" y1="1143.3" x2="1071.2" y2="1143.3" stroke="#000" stroke-width="6.6" />
<rect x="1019.90" y="794.00" width="9" height="9" fill="#000" stroke="#e0e0e0" stroke-width="0.8"/>
<rect x="1019.90" y="862.40" width="9" height="9" fill="#000" stroke="#e0e0e0" stroke-width="0.8"/>
<rect x="1019.90" y="901.90" width="9" height="9" fill="#000" stroke="#e0e0e0" stroke-width="0.8"/>
<rect x="1019.90" y="1138.80" width="9" height="9" fill="#000" stroke="#e0e0e0" stroke-width="0.8"/>
<rect x="1019.90" y="1159.60" width="9" height="9" fill="#000" stroke="#e0e0e0" stroke-width="0.8"/>
<rect x="999.80" y="1170.50" width="9" height="9" fill="#000" stroke="#e0e0e0" stroke-width="0.8"/>
<rect x="1038.90" y="1168.80" width="9" height="9" fill="#000" stroke="#e0e0e0" stroke-width="0.8"/>
<rect x="1155.7" y="969.6" width="57.299999999999955" height="188.89999999999998" fill="#e0e0e0"/>
<rect x="1155.7" y="969.6" width="57.299999999999955" height="188.89999999999998" fill="none" stroke="#000" stroke-width="2.5"/>
<line x1="1184.4" y1="875.3" x2="1184.4" y2="969.6" stroke="#000" stroke-width="3" />
<line x1="1184.4" y1="1158.5" x2="1184.4" y2="1167" stroke="#000" stroke-width="3" />
<line x1="1168.4" y1="875.3" x2="1200.4" y2="875.3" stroke="#000" stroke-width="5" />
<line x1="1168.4" y1="1167" x2="1200.4" y2="1167" stroke="#000" stroke-width="5" />
<line x1="1138" y1="1089" x2="1231.2" y2="1089" stroke="#000" stroke-width="6.6" />
<path d="M1179.70,871.40 L1189.10,871.40 L1184.40,880.00 Z" fill="#fff" stroke="#000" stroke-width="1.1" stroke-linejoin="miter"/>
<path d="M1179.70,992.30 L1189.10,992.30 L1184.40,1000.90 Z" fill="#fff" stroke="#000" stroke-width="1.1" stroke-linejoin="miter"/>
<path d="M1160.00,1085.30 L1169.40,1085.30 L1164.70,1093.90 Z" fill="#fff" stroke="#000" stroke-width="1.1" stroke-linejoin="miter"/>
<path d="M1179.70,1084.40 L1189.10,1084.40 L1184.40,1093.00 Z" fill="#fff" stroke="#000" stroke-width="1.1" stroke-linejoin="miter"/>
<path d="M1160.00,1162.40 L1169.40,1162.40 L1164.70,1171.00 Z" fill="#fff" stroke="#000" stroke-width="1.1" stroke-linejoin="miter"/>
<path d="M1199.00,1156.00 L1208.40,1156.00 L1203.70,1164.60 Z" fill="#fff" stroke="#000" stroke-width="1.1" stroke-linejoin="miter"/>
<rect x="1251.5" y="1079.3" width="58.0" height="91.29999999999995" fill="#ff0000"/>
<rect x="1251.5" y="1079.3" width="58.0" height="91.29999999999995" fill="none" stroke="#000" stroke-width="2.5"/>
<line x1="1280.8" y1="1070" x2="1280.8" y2="1079.3" stroke="#000" stroke-width="3" />
<line x1="1280.8" y1="1170.6" x2="1280.8" y2="1175" stroke="#000" stroke-width="3" />
<line x1="1264.8" y1="1070" x2="1296.8" y2="1070" stroke="#000" stroke-width="5" />
<line x1="1264.8" y1="1175" x2="1296.8" y2="1175" stroke="#000" stroke-width="5" />
<line x1="1234.2" y1="1128.3" x2="1327" y2="1128.3" stroke="#000" stroke-width="6.6" />
<path d="M1295.10,1066.30 L1304.50,1066.30 L1299.80,1074.70 Z" fill="#000" stroke="#d8d8d8" stroke-width="0.7" stroke-linejoin="miter"/>
<path d="M1276.10,1075.40 L1285.50,1075.40 L1280.80,1083.80 Z" fill="#000" stroke="#d8d8d8" stroke-width="0.7" stroke-linejoin="miter"/>
<path d="M1276.10,1096.50 L1285.50,1096.50 L1280.80,1104.90 Z" fill="#000" stroke="#d8d8d8" stroke-width="0.7" stroke-linejoin="miter"/>
<path d="M1276.10,1147.90 L1285.50,1147.90 L1280.80,1156.30 Z" fill="#000" stroke="#d8d8d8" stroke-width="0.7" stroke-linejoin="miter"/>
<path d="M1256.40,1171.20 L1265.80,1171.20 L1261.10,1179.60 Z" fill="#000" stroke="#d8d8d8" stroke-width="0.7" stroke-linejoin="miter"/>
<path d="M1295.10,1169.00 L1304.50,1169.00 L1299.80,1177.40 Z" fill="#000" stroke="#d8d8d8" stroke-width="0.7" stroke-linejoin="miter"/>
</svg></body></html>
